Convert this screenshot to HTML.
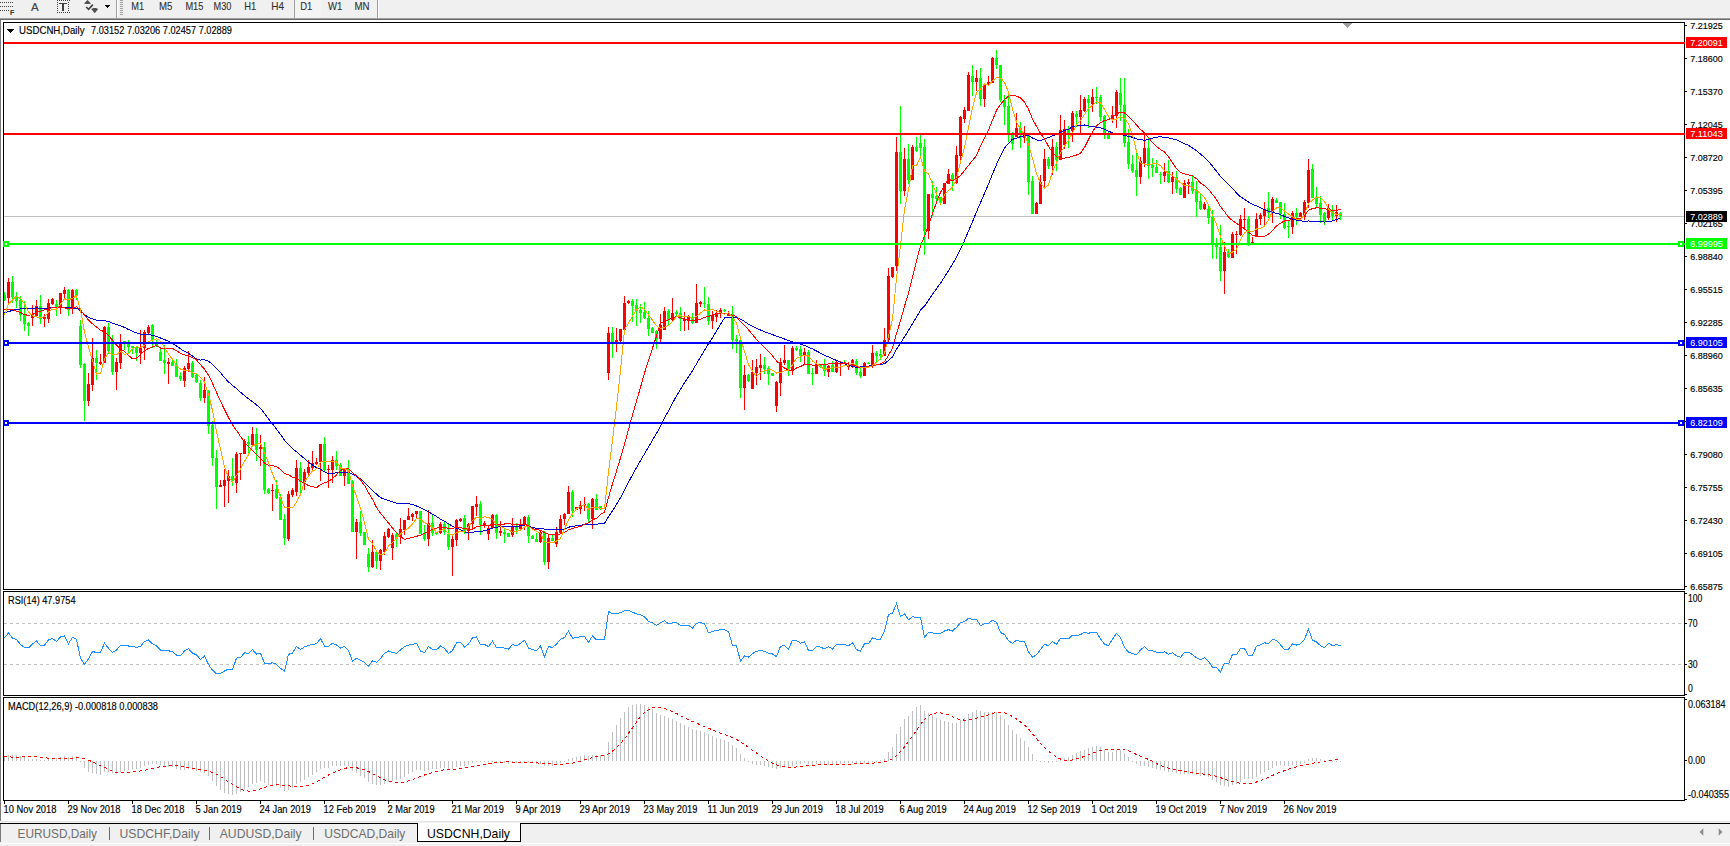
<!DOCTYPE html>
<html><head><meta charset="utf-8"><title>USDCNH,Daily</title>
<style>
html,body{margin:0;padding:0;background:#f0f0f0;overflow:hidden}
svg{display:block}
text{font-family:"Liberation Sans",Arial,sans-serif}
</style></head><body>
<svg width="1730" height="846" viewBox="0 0 1730 846" shape-rendering="crispEdges">
<defs><clipPath id="cm"><rect x="4" y="23" width="1680" height="566"/></clipPath></defs>
<rect x="0" y="0" width="1730" height="846" fill="#f0f0f0"/>
<rect x="0" y="18" width="1730" height="1" fill="#a0a0a0"/>
<rect x="0" y="19" width="1730" height="1" fill="#696969"/>
<rect x="1" y="20" width="1729" height="801" fill="#ffffff"/>
<rect x="0" y="20" width="1" height="801" fill="#7a7a7a"/>
<rect x="1" y="821" width="1729" height="1" fill="#e3e3e3"/>
<rect x="0" y="823" width="1730" height="1" fill="#000000"/>
<rect x="0" y="824" width="1730" height="19" fill="#f0f0f0"/>
<rect x="0" y="843" width="1730" height="1" fill="#ffffff"/>
<g clip-path="url(#cm)">
<rect x="4" y="216" width="1680" height="1" fill="#c0c0c0"/>
<rect x="4" y="292" width="1" height="9" fill="#00ff00"/>
<rect x="3" y="295" width="3" height="5" fill="#00ff00"/>
<rect x="8" y="278" width="1" height="26" fill="#ff0000"/>
<rect x="7" y="282" width="3" height="16" fill="#ff0000"/>
<rect x="12" y="276" width="1" height="27" fill="#00ff00"/>
<rect x="11" y="282" width="3" height="15" fill="#00ff00"/>
<rect x="16" y="292" width="1" height="16" fill="#00ff00"/>
<rect x="15" y="296" width="3" height="5" fill="#00ff00"/>
<rect x="20" y="296" width="1" height="25" fill="#00ff00"/>
<rect x="19" y="300" width="3" height="15" fill="#00ff00"/>
<rect x="24" y="301" width="1" height="30" fill="#00ff00"/>
<rect x="23" y="314" width="3" height="10" fill="#00ff00"/>
<rect x="28" y="322" width="1" height="14" fill="#00ff00"/>
<rect x="27" y="323" width="3" height="3" fill="#00ff00"/>
<rect x="32" y="305" width="1" height="21" fill="#ff0000"/>
<rect x="31" y="314" width="3" height="4" fill="#ff0000"/>
<rect x="36" y="300" width="1" height="17" fill="#ff0000"/>
<rect x="35" y="306" width="3" height="10" fill="#ff0000"/>
<rect x="40" y="295" width="1" height="29" fill="#00ff00"/>
<rect x="39" y="306" width="3" height="13" fill="#00ff00"/>
<rect x="44" y="314" width="1" height="13" fill="#ff0000"/>
<rect x="43" y="317" width="3" height="2" fill="#ff0000"/>
<rect x="48" y="299" width="1" height="24" fill="#ff0000"/>
<rect x="47" y="303" width="3" height="16" fill="#ff0000"/>
<rect x="52" y="298" width="1" height="7" fill="#ff0000"/>
<rect x="51" y="299" width="3" height="5" fill="#ff0000"/>
<rect x="56" y="300" width="1" height="16" fill="#00ff00"/>
<rect x="55" y="304" width="3" height="3" fill="#00ff00"/>
<rect x="60" y="293" width="1" height="21" fill="#ff0000"/>
<rect x="59" y="293" width="3" height="15" fill="#ff0000"/>
<rect x="64" y="287" width="1" height="11" fill="#ff0000"/>
<rect x="63" y="290" width="3" height="4" fill="#ff0000"/>
<rect x="68" y="289" width="1" height="27" fill="#00ff00"/>
<rect x="67" y="290" width="3" height="20" fill="#00ff00"/>
<rect x="72" y="289" width="1" height="25" fill="#ff0000"/>
<rect x="71" y="290" width="3" height="19" fill="#ff0000"/>
<rect x="76" y="289" width="1" height="11" fill="#00ff00"/>
<rect x="75" y="290" width="3" height="6" fill="#00ff00"/>
<rect x="80" y="320" width="1" height="48" fill="#00ff00"/>
<rect x="79" y="326" width="3" height="39" fill="#00ff00"/>
<rect x="84" y="363" width="1" height="58" fill="#00ff00"/>
<rect x="83" y="364" width="3" height="37" fill="#00ff00"/>
<rect x="88" y="373" width="1" height="33" fill="#ff0000"/>
<rect x="87" y="384" width="3" height="17" fill="#ff0000"/>
<rect x="92" y="338" width="1" height="53" fill="#ff0000"/>
<rect x="91" y="358" width="3" height="27" fill="#ff0000"/>
<rect x="96" y="350" width="1" height="30" fill="#00ff00"/>
<rect x="95" y="358" width="3" height="5" fill="#00ff00"/>
<rect x="100" y="354" width="1" height="11" fill="#ff0000"/>
<rect x="99" y="362" width="3" height="2" fill="#ff0000"/>
<rect x="104" y="326" width="1" height="37" fill="#ff0000"/>
<rect x="103" y="327" width="3" height="36" fill="#ff0000"/>
<rect x="108" y="323" width="1" height="31" fill="#00ff00"/>
<rect x="107" y="327" width="3" height="24" fill="#00ff00"/>
<rect x="112" y="335" width="1" height="40" fill="#00ff00"/>
<rect x="111" y="340" width="3" height="32" fill="#00ff00"/>
<rect x="116" y="358" width="1" height="32" fill="#ff0000"/>
<rect x="115" y="362" width="3" height="10" fill="#ff0000"/>
<rect x="120" y="334" width="1" height="35" fill="#ff0000"/>
<rect x="119" y="344" width="3" height="19" fill="#ff0000"/>
<rect x="124" y="341" width="1" height="9" fill="#00ff00"/>
<rect x="123" y="341" width="3" height="2" fill="#00ff00"/>
<rect x="128" y="340" width="1" height="13" fill="#00ff00"/>
<rect x="127" y="343" width="3" height="4" fill="#00ff00"/>
<rect x="132" y="346" width="1" height="8" fill="#00ff00"/>
<rect x="131" y="346" width="3" height="2" fill="#00ff00"/>
<rect x="136" y="346" width="1" height="15" fill="#00ff00"/>
<rect x="135" y="347" width="3" height="6" fill="#00ff00"/>
<rect x="140" y="330" width="1" height="34" fill="#ff0000"/>
<rect x="139" y="348" width="3" height="5" fill="#ff0000"/>
<rect x="144" y="330" width="1" height="30" fill="#ff0000"/>
<rect x="143" y="332" width="3" height="16" fill="#ff0000"/>
<rect x="148" y="325" width="1" height="9" fill="#ff0000"/>
<rect x="147" y="327" width="3" height="6" fill="#ff0000"/>
<rect x="152" y="324" width="1" height="24" fill="#00ff00"/>
<rect x="151" y="325" width="3" height="15" fill="#00ff00"/>
<rect x="156" y="340" width="1" height="7" fill="#00ff00"/>
<rect x="155" y="343" width="3" height="3" fill="#00ff00"/>
<rect x="160" y="347" width="1" height="14" fill="#00ff00"/>
<rect x="159" y="352" width="3" height="9" fill="#00ff00"/>
<rect x="164" y="345" width="1" height="29" fill="#00ff00"/>
<rect x="163" y="360" width="3" height="3" fill="#00ff00"/>
<rect x="168" y="358" width="1" height="26" fill="#ff0000"/>
<rect x="167" y="362" width="3" height="2" fill="#ff0000"/>
<rect x="172" y="358" width="1" height="8" fill="#00ff00"/>
<rect x="171" y="362" width="3" height="4" fill="#00ff00"/>
<rect x="176" y="359" width="1" height="18" fill="#00ff00"/>
<rect x="175" y="365" width="3" height="12" fill="#00ff00"/>
<rect x="180" y="372" width="1" height="9" fill="#00ff00"/>
<rect x="179" y="376" width="3" height="3" fill="#00ff00"/>
<rect x="184" y="366" width="1" height="21" fill="#ff0000"/>
<rect x="183" y="368" width="3" height="13" fill="#ff0000"/>
<rect x="188" y="351" width="1" height="21" fill="#ff0000"/>
<rect x="187" y="363" width="3" height="6" fill="#ff0000"/>
<rect x="192" y="361" width="1" height="17" fill="#00ff00"/>
<rect x="191" y="363" width="3" height="14" fill="#00ff00"/>
<rect x="196" y="374" width="1" height="9" fill="#00ff00"/>
<rect x="195" y="375" width="3" height="7" fill="#00ff00"/>
<rect x="200" y="380" width="1" height="21" fill="#00ff00"/>
<rect x="199" y="383" width="3" height="15" fill="#00ff00"/>
<rect x="204" y="377" width="1" height="26" fill="#ff0000"/>
<rect x="203" y="390" width="3" height="8" fill="#ff0000"/>
<rect x="208" y="390" width="1" height="44" fill="#00ff00"/>
<rect x="207" y="391" width="3" height="35" fill="#00ff00"/>
<rect x="212" y="421" width="1" height="45" fill="#00ff00"/>
<rect x="211" y="425" width="3" height="33" fill="#00ff00"/>
<rect x="216" y="450" width="1" height="59" fill="#00ff00"/>
<rect x="215" y="458" width="3" height="29" fill="#00ff00"/>
<rect x="220" y="480" width="1" height="7" fill="#ff0000"/>
<rect x="219" y="485" width="3" height="2" fill="#ff0000"/>
<rect x="224" y="469" width="1" height="38" fill="#ff0000"/>
<rect x="223" y="480" width="3" height="6" fill="#ff0000"/>
<rect x="228" y="470" width="1" height="33" fill="#ff0000"/>
<rect x="227" y="476" width="3" height="5" fill="#ff0000"/>
<rect x="232" y="458" width="1" height="28" fill="#00ff00"/>
<rect x="231" y="476" width="3" height="5" fill="#00ff00"/>
<rect x="236" y="452" width="1" height="41" fill="#ff0000"/>
<rect x="235" y="454" width="3" height="29" fill="#ff0000"/>
<rect x="240" y="453" width="1" height="27" fill="#ff0000"/>
<rect x="239" y="453" width="3" height="1" fill="#ff0000"/>
<rect x="244" y="439" width="1" height="15" fill="#ff0000"/>
<rect x="243" y="441" width="3" height="13" fill="#ff0000"/>
<rect x="248" y="436" width="1" height="18" fill="#00ff00"/>
<rect x="247" y="442" width="3" height="2" fill="#00ff00"/>
<rect x="252" y="427" width="1" height="19" fill="#ff0000"/>
<rect x="251" y="434" width="3" height="11" fill="#ff0000"/>
<rect x="256" y="428" width="1" height="33" fill="#00ff00"/>
<rect x="255" y="434" width="3" height="16" fill="#00ff00"/>
<rect x="260" y="435" width="1" height="31" fill="#ff0000"/>
<rect x="259" y="447" width="3" height="2" fill="#ff0000"/>
<rect x="264" y="442" width="1" height="52" fill="#00ff00"/>
<rect x="263" y="447" width="3" height="43" fill="#00ff00"/>
<rect x="268" y="488" width="1" height="6" fill="#00ff00"/>
<rect x="267" y="489" width="3" height="4" fill="#00ff00"/>
<rect x="272" y="484" width="1" height="27" fill="#ff0000"/>
<rect x="271" y="490" width="3" height="1" fill="#ff0000"/>
<rect x="276" y="480" width="1" height="19" fill="#00ff00"/>
<rect x="275" y="489" width="3" height="9" fill="#00ff00"/>
<rect x="280" y="494" width="1" height="26" fill="#00ff00"/>
<rect x="279" y="497" width="3" height="23" fill="#00ff00"/>
<rect x="284" y="514" width="1" height="31" fill="#00ff00"/>
<rect x="283" y="519" width="3" height="19" fill="#00ff00"/>
<rect x="288" y="491" width="1" height="50" fill="#ff0000"/>
<rect x="287" y="494" width="3" height="45" fill="#ff0000"/>
<rect x="292" y="488" width="1" height="9" fill="#ff0000"/>
<rect x="291" y="490" width="3" height="5" fill="#ff0000"/>
<rect x="296" y="460" width="1" height="36" fill="#ff0000"/>
<rect x="295" y="468" width="3" height="24" fill="#ff0000"/>
<rect x="300" y="462" width="1" height="31" fill="#00ff00"/>
<rect x="299" y="468" width="3" height="14" fill="#00ff00"/>
<rect x="304" y="469" width="1" height="21" fill="#ff0000"/>
<rect x="303" y="472" width="3" height="10" fill="#ff0000"/>
<rect x="308" y="460" width="1" height="16" fill="#ff0000"/>
<rect x="307" y="467" width="3" height="6" fill="#ff0000"/>
<rect x="312" y="451" width="1" height="20" fill="#ff0000"/>
<rect x="311" y="463" width="3" height="5" fill="#ff0000"/>
<rect x="316" y="458" width="1" height="7" fill="#ff0000"/>
<rect x="315" y="462" width="3" height="2" fill="#ff0000"/>
<rect x="320" y="444" width="1" height="37" fill="#ff0000"/>
<rect x="319" y="444" width="3" height="18" fill="#ff0000"/>
<rect x="324" y="437" width="1" height="34" fill="#00ff00"/>
<rect x="323" y="444" width="3" height="26" fill="#00ff00"/>
<rect x="328" y="465" width="1" height="23" fill="#ff0000"/>
<rect x="327" y="469" width="3" height="1" fill="#ff0000"/>
<rect x="332" y="456" width="1" height="27" fill="#ff0000"/>
<rect x="331" y="460" width="3" height="10" fill="#ff0000"/>
<rect x="336" y="451" width="1" height="19" fill="#00ff00"/>
<rect x="335" y="460" width="3" height="6" fill="#00ff00"/>
<rect x="340" y="463" width="1" height="13" fill="#00ff00"/>
<rect x="339" y="465" width="3" height="11" fill="#00ff00"/>
<rect x="344" y="469" width="1" height="17" fill="#ff0000"/>
<rect x="343" y="470" width="3" height="6" fill="#ff0000"/>
<rect x="348" y="460" width="1" height="24" fill="#00ff00"/>
<rect x="347" y="469" width="3" height="15" fill="#00ff00"/>
<rect x="352" y="480" width="1" height="52" fill="#00ff00"/>
<rect x="351" y="481" width="3" height="51" fill="#00ff00"/>
<rect x="356" y="519" width="1" height="40" fill="#ff0000"/>
<rect x="355" y="522" width="3" height="10" fill="#ff0000"/>
<rect x="360" y="511" width="1" height="25" fill="#00ff00"/>
<rect x="359" y="522" width="3" height="11" fill="#00ff00"/>
<rect x="364" y="532" width="1" height="13" fill="#00ff00"/>
<rect x="363" y="532" width="3" height="13" fill="#00ff00"/>
<rect x="368" y="548" width="1" height="24" fill="#00ff00"/>
<rect x="367" y="554" width="3" height="13" fill="#00ff00"/>
<rect x="372" y="540" width="1" height="28" fill="#ff0000"/>
<rect x="371" y="552" width="3" height="15" fill="#ff0000"/>
<rect x="376" y="551" width="1" height="18" fill="#00ff00"/>
<rect x="375" y="552" width="3" height="9" fill="#00ff00"/>
<rect x="380" y="549" width="1" height="21" fill="#ff0000"/>
<rect x="379" y="550" width="3" height="11" fill="#ff0000"/>
<rect x="384" y="532" width="1" height="23" fill="#ff0000"/>
<rect x="383" y="536" width="3" height="16" fill="#ff0000"/>
<rect x="388" y="528" width="1" height="10" fill="#ff0000"/>
<rect x="387" y="529" width="3" height="8" fill="#ff0000"/>
<rect x="392" y="533" width="1" height="27" fill="#ff0000"/>
<rect x="391" y="535" width="3" height="13" fill="#ff0000"/>
<rect x="396" y="533" width="1" height="14" fill="#00ff00"/>
<rect x="395" y="534" width="3" height="5" fill="#00ff00"/>
<rect x="400" y="518" width="1" height="26" fill="#ff0000"/>
<rect x="399" y="529" width="3" height="8" fill="#ff0000"/>
<rect x="404" y="520" width="1" height="15" fill="#ff0000"/>
<rect x="403" y="520" width="3" height="10" fill="#ff0000"/>
<rect x="408" y="508" width="1" height="12" fill="#ff0000"/>
<rect x="407" y="516" width="3" height="4" fill="#ff0000"/>
<rect x="412" y="513" width="1" height="8" fill="#ff0000"/>
<rect x="411" y="514" width="3" height="3" fill="#ff0000"/>
<rect x="416" y="511" width="1" height="7" fill="#ff0000"/>
<rect x="415" y="511" width="3" height="3" fill="#ff0000"/>
<rect x="420" y="511" width="1" height="23" fill="#00ff00"/>
<rect x="419" y="511" width="3" height="23" fill="#00ff00"/>
<rect x="424" y="525" width="1" height="16" fill="#00ff00"/>
<rect x="423" y="533" width="3" height="6" fill="#00ff00"/>
<rect x="428" y="510" width="1" height="36" fill="#ff0000"/>
<rect x="427" y="523" width="3" height="16" fill="#ff0000"/>
<rect x="432" y="515" width="1" height="21" fill="#00ff00"/>
<rect x="431" y="523" width="3" height="10" fill="#00ff00"/>
<rect x="436" y="532" width="1" height="3" fill="#00ff00"/>
<rect x="435" y="532" width="3" height="2" fill="#00ff00"/>
<rect x="440" y="522" width="1" height="12" fill="#ff0000"/>
<rect x="439" y="524" width="3" height="9" fill="#ff0000"/>
<rect x="444" y="522" width="1" height="13" fill="#00ff00"/>
<rect x="443" y="524" width="3" height="8" fill="#00ff00"/>
<rect x="448" y="524" width="1" height="26" fill="#00ff00"/>
<rect x="447" y="534" width="3" height="13" fill="#00ff00"/>
<rect x="452" y="536" width="1" height="40" fill="#ff0000"/>
<rect x="451" y="539" width="3" height="8" fill="#ff0000"/>
<rect x="456" y="519" width="1" height="27" fill="#ff0000"/>
<rect x="455" y="520" width="3" height="20" fill="#ff0000"/>
<rect x="460" y="518" width="1" height="4" fill="#ff0000"/>
<rect x="459" y="519" width="3" height="2" fill="#ff0000"/>
<rect x="464" y="515" width="1" height="19" fill="#00ff00"/>
<rect x="463" y="518" width="3" height="14" fill="#00ff00"/>
<rect x="468" y="523" width="1" height="17" fill="#ff0000"/>
<rect x="467" y="524" width="3" height="7" fill="#ff0000"/>
<rect x="472" y="506" width="1" height="24" fill="#ff0000"/>
<rect x="471" y="506" width="3" height="18" fill="#ff0000"/>
<rect x="476" y="496" width="1" height="20" fill="#ff0000"/>
<rect x="475" y="504" width="3" height="3" fill="#ff0000"/>
<rect x="480" y="501" width="1" height="34" fill="#00ff00"/>
<rect x="479" y="504" width="3" height="21" fill="#00ff00"/>
<rect x="484" y="521" width="1" height="7" fill="#ff0000"/>
<rect x="483" y="523" width="3" height="3" fill="#ff0000"/>
<rect x="488" y="526" width="1" height="14" fill="#ff0000"/>
<rect x="487" y="528" width="3" height="6" fill="#ff0000"/>
<rect x="492" y="514" width="1" height="14" fill="#ff0000"/>
<rect x="491" y="515" width="3" height="13" fill="#ff0000"/>
<rect x="496" y="514" width="1" height="25" fill="#00ff00"/>
<rect x="495" y="515" width="3" height="18" fill="#00ff00"/>
<rect x="500" y="521" width="1" height="15" fill="#ff0000"/>
<rect x="499" y="531" width="3" height="2" fill="#ff0000"/>
<rect x="504" y="529" width="1" height="14" fill="#00ff00"/>
<rect x="503" y="532" width="3" height="2" fill="#00ff00"/>
<rect x="508" y="533" width="1" height="4" fill="#00ff00"/>
<rect x="507" y="533" width="3" height="4" fill="#00ff00"/>
<rect x="512" y="518" width="1" height="19" fill="#ff0000"/>
<rect x="511" y="526" width="3" height="9" fill="#ff0000"/>
<rect x="516" y="523" width="1" height="11" fill="#00ff00"/>
<rect x="515" y="527" width="3" height="3" fill="#00ff00"/>
<rect x="520" y="519" width="1" height="11" fill="#ff0000"/>
<rect x="519" y="524" width="3" height="5" fill="#ff0000"/>
<rect x="524" y="516" width="1" height="14" fill="#ff0000"/>
<rect x="523" y="517" width="3" height="7" fill="#ff0000"/>
<rect x="528" y="515" width="1" height="28" fill="#00ff00"/>
<rect x="527" y="517" width="3" height="19" fill="#00ff00"/>
<rect x="532" y="535" width="1" height="4" fill="#00ff00"/>
<rect x="531" y="536" width="3" height="3" fill="#00ff00"/>
<rect x="536" y="533" width="1" height="9" fill="#00ff00"/>
<rect x="535" y="539" width="3" height="3" fill="#00ff00"/>
<rect x="540" y="531" width="1" height="12" fill="#ff0000"/>
<rect x="539" y="532" width="3" height="10" fill="#ff0000"/>
<rect x="544" y="531" width="1" height="34" fill="#00ff00"/>
<rect x="543" y="532" width="3" height="30" fill="#00ff00"/>
<rect x="548" y="535" width="1" height="34" fill="#ff0000"/>
<rect x="547" y="538" width="3" height="24" fill="#ff0000"/>
<rect x="552" y="535" width="1" height="6" fill="#00ff00"/>
<rect x="551" y="538" width="3" height="3" fill="#00ff00"/>
<rect x="556" y="527" width="1" height="20" fill="#ff0000"/>
<rect x="555" y="532" width="3" height="12" fill="#ff0000"/>
<rect x="560" y="515" width="1" height="19" fill="#ff0000"/>
<rect x="559" y="519" width="3" height="14" fill="#ff0000"/>
<rect x="564" y="513" width="1" height="12" fill="#ff0000"/>
<rect x="563" y="514" width="3" height="5" fill="#ff0000"/>
<rect x="568" y="486" width="1" height="28" fill="#ff0000"/>
<rect x="567" y="492" width="3" height="22" fill="#ff0000"/>
<rect x="572" y="490" width="1" height="27" fill="#00ff00"/>
<rect x="571" y="492" width="3" height="19" fill="#00ff00"/>
<rect x="576" y="507" width="1" height="3" fill="#ff0000"/>
<rect x="575" y="507" width="3" height="3" fill="#ff0000"/>
<rect x="580" y="501" width="1" height="13" fill="#ff0000"/>
<rect x="579" y="505" width="3" height="4" fill="#ff0000"/>
<rect x="584" y="497" width="1" height="14" fill="#ff0000"/>
<rect x="583" y="504" width="3" height="1" fill="#ff0000"/>
<rect x="588" y="503" width="1" height="19" fill="#00ff00"/>
<rect x="587" y="504" width="3" height="15" fill="#00ff00"/>
<rect x="592" y="498" width="1" height="31" fill="#ff0000"/>
<rect x="591" y="499" width="3" height="20" fill="#ff0000"/>
<rect x="596" y="494" width="1" height="16" fill="#00ff00"/>
<rect x="595" y="499" width="3" height="11" fill="#00ff00"/>
<rect x="600" y="506" width="1" height="4" fill="#00ff00"/>
<rect x="599" y="506" width="3" height="3" fill="#00ff00"/>
<rect x="604" y="508" width="1" height="1" fill="#00ff00"/>
<rect x="603" y="508" width="3" height="1" fill="#00ff00"/>
<rect x="608" y="327" width="1" height="53" fill="#ff0000"/>
<rect x="607" y="333" width="3" height="40" fill="#ff0000"/>
<rect x="612" y="327" width="1" height="31" fill="#00ff00"/>
<rect x="611" y="333" width="3" height="9" fill="#00ff00"/>
<rect x="616" y="328" width="1" height="24" fill="#ff0000"/>
<rect x="615" y="340" width="3" height="2" fill="#ff0000"/>
<rect x="620" y="329" width="1" height="15" fill="#ff0000"/>
<rect x="619" y="329" width="3" height="12" fill="#ff0000"/>
<rect x="624" y="296" width="1" height="34" fill="#ff0000"/>
<rect x="623" y="303" width="3" height="27" fill="#ff0000"/>
<rect x="628" y="300" width="1" height="4" fill="#ff0000"/>
<rect x="627" y="301" width="3" height="2" fill="#ff0000"/>
<rect x="632" y="299" width="1" height="23" fill="#00ff00"/>
<rect x="631" y="301" width="3" height="5" fill="#00ff00"/>
<rect x="636" y="299" width="1" height="27" fill="#00ff00"/>
<rect x="635" y="305" width="3" height="6" fill="#00ff00"/>
<rect x="640" y="304" width="1" height="19" fill="#00ff00"/>
<rect x="639" y="310" width="3" height="3" fill="#00ff00"/>
<rect x="644" y="302" width="1" height="17" fill="#00ff00"/>
<rect x="643" y="312" width="3" height="6" fill="#00ff00"/>
<rect x="648" y="311" width="1" height="25" fill="#00ff00"/>
<rect x="647" y="318" width="3" height="11" fill="#00ff00"/>
<rect x="652" y="327" width="1" height="6" fill="#00ff00"/>
<rect x="651" y="328" width="3" height="5" fill="#00ff00"/>
<rect x="656" y="330" width="1" height="19" fill="#00ff00"/>
<rect x="655" y="331" width="3" height="8" fill="#00ff00"/>
<rect x="660" y="314" width="1" height="28" fill="#ff0000"/>
<rect x="659" y="325" width="3" height="14" fill="#ff0000"/>
<rect x="664" y="307" width="1" height="23" fill="#ff0000"/>
<rect x="663" y="311" width="3" height="19" fill="#ff0000"/>
<rect x="668" y="309" width="1" height="16" fill="#00ff00"/>
<rect x="667" y="311" width="3" height="9" fill="#00ff00"/>
<rect x="672" y="298" width="1" height="23" fill="#ff0000"/>
<rect x="671" y="313" width="3" height="7" fill="#ff0000"/>
<rect x="676" y="310" width="1" height="6" fill="#00ff00"/>
<rect x="675" y="312" width="3" height="2" fill="#00ff00"/>
<rect x="680" y="307" width="1" height="24" fill="#00ff00"/>
<rect x="679" y="313" width="3" height="6" fill="#00ff00"/>
<rect x="684" y="312" width="1" height="19" fill="#ff0000"/>
<rect x="683" y="319" width="3" height="2" fill="#ff0000"/>
<rect x="688" y="315" width="1" height="15" fill="#ff0000"/>
<rect x="687" y="317" width="3" height="4" fill="#ff0000"/>
<rect x="692" y="313" width="1" height="11" fill="#00ff00"/>
<rect x="691" y="318" width="3" height="5" fill="#00ff00"/>
<rect x="696" y="284" width="1" height="39" fill="#ff0000"/>
<rect x="695" y="303" width="3" height="20" fill="#ff0000"/>
<rect x="700" y="301" width="1" height="6" fill="#ff0000"/>
<rect x="699" y="302" width="3" height="2" fill="#ff0000"/>
<rect x="704" y="287" width="1" height="21" fill="#00ff00"/>
<rect x="703" y="303" width="3" height="1" fill="#00ff00"/>
<rect x="708" y="297" width="1" height="28" fill="#00ff00"/>
<rect x="707" y="304" width="3" height="17" fill="#00ff00"/>
<rect x="712" y="311" width="1" height="18" fill="#ff0000"/>
<rect x="711" y="315" width="3" height="6" fill="#ff0000"/>
<rect x="716" y="310" width="1" height="12" fill="#ff0000"/>
<rect x="715" y="313" width="3" height="4" fill="#ff0000"/>
<rect x="720" y="308" width="1" height="10" fill="#ff0000"/>
<rect x="719" y="310" width="3" height="4" fill="#ff0000"/>
<rect x="724" y="309" width="1" height="3" fill="#00ff00"/>
<rect x="723" y="310" width="3" height="1" fill="#00ff00"/>
<rect x="728" y="311" width="1" height="5" fill="#ff0000"/>
<rect x="727" y="313" width="3" height="3" fill="#ff0000"/>
<rect x="732" y="306" width="1" height="43" fill="#00ff00"/>
<rect x="731" y="314" width="3" height="26" fill="#00ff00"/>
<rect x="736" y="335" width="1" height="18" fill="#00ff00"/>
<rect x="735" y="339" width="3" height="2" fill="#00ff00"/>
<rect x="740" y="340" width="1" height="58" fill="#00ff00"/>
<rect x="739" y="340" width="3" height="48" fill="#00ff00"/>
<rect x="744" y="365" width="1" height="45" fill="#ff0000"/>
<rect x="743" y="375" width="3" height="13" fill="#ff0000"/>
<rect x="748" y="374" width="1" height="8" fill="#00ff00"/>
<rect x="747" y="375" width="3" height="6" fill="#00ff00"/>
<rect x="752" y="360" width="1" height="29" fill="#ff0000"/>
<rect x="751" y="372" width="3" height="17" fill="#ff0000"/>
<rect x="756" y="359" width="1" height="26" fill="#ff0000"/>
<rect x="755" y="367" width="3" height="6" fill="#ff0000"/>
<rect x="760" y="354" width="1" height="26" fill="#ff0000"/>
<rect x="759" y="365" width="3" height="3" fill="#ff0000"/>
<rect x="764" y="357" width="1" height="17" fill="#00ff00"/>
<rect x="763" y="365" width="3" height="4" fill="#00ff00"/>
<rect x="768" y="366" width="1" height="19" fill="#00ff00"/>
<rect x="767" y="368" width="3" height="6" fill="#00ff00"/>
<rect x="772" y="373" width="1" height="3" fill="#00ff00"/>
<rect x="771" y="373" width="3" height="3" fill="#00ff00"/>
<rect x="776" y="381" width="1" height="31" fill="#ff0000"/>
<rect x="775" y="382" width="3" height="24" fill="#ff0000"/>
<rect x="780" y="358" width="1" height="38" fill="#ff0000"/>
<rect x="779" y="362" width="3" height="21" fill="#ff0000"/>
<rect x="784" y="345" width="1" height="20" fill="#ff0000"/>
<rect x="783" y="360" width="3" height="3" fill="#ff0000"/>
<rect x="788" y="360" width="1" height="16" fill="#00ff00"/>
<rect x="787" y="360" width="3" height="10" fill="#00ff00"/>
<rect x="792" y="346" width="1" height="29" fill="#ff0000"/>
<rect x="791" y="348" width="3" height="22" fill="#ff0000"/>
<rect x="796" y="346" width="1" height="5" fill="#00ff00"/>
<rect x="795" y="348" width="3" height="2" fill="#00ff00"/>
<rect x="800" y="346" width="1" height="16" fill="#00ff00"/>
<rect x="799" y="349" width="3" height="7" fill="#00ff00"/>
<rect x="804" y="348" width="1" height="16" fill="#ff0000"/>
<rect x="803" y="352" width="3" height="4" fill="#ff0000"/>
<rect x="808" y="350" width="1" height="24" fill="#00ff00"/>
<rect x="807" y="352" width="3" height="22" fill="#00ff00"/>
<rect x="812" y="368" width="1" height="17" fill="#00ff00"/>
<rect x="811" y="373" width="3" height="1" fill="#00ff00"/>
<rect x="816" y="360" width="1" height="14" fill="#ff0000"/>
<rect x="815" y="364" width="3" height="10" fill="#ff0000"/>
<rect x="820" y="364" width="1" height="4" fill="#00ff00"/>
<rect x="819" y="365" width="3" height="2" fill="#00ff00"/>
<rect x="824" y="359" width="1" height="17" fill="#00ff00"/>
<rect x="823" y="365" width="3" height="6" fill="#00ff00"/>
<rect x="828" y="365" width="1" height="12" fill="#ff0000"/>
<rect x="827" y="366" width="3" height="6" fill="#ff0000"/>
<rect x="832" y="361" width="1" height="11" fill="#00ff00"/>
<rect x="831" y="365" width="3" height="7" fill="#00ff00"/>
<rect x="836" y="360" width="1" height="13" fill="#ff0000"/>
<rect x="835" y="362" width="3" height="10" fill="#ff0000"/>
<rect x="840" y="361" width="1" height="15" fill="#ff0000"/>
<rect x="839" y="363" width="3" height="1" fill="#ff0000"/>
<rect x="844" y="360" width="1" height="4" fill="#00ff00"/>
<rect x="843" y="362" width="3" height="2" fill="#00ff00"/>
<rect x="848" y="362" width="1" height="8" fill="#ff0000"/>
<rect x="847" y="365" width="3" height="2" fill="#ff0000"/>
<rect x="852" y="359" width="1" height="9" fill="#ff0000"/>
<rect x="851" y="360" width="3" height="7" fill="#ff0000"/>
<rect x="856" y="359" width="1" height="16" fill="#00ff00"/>
<rect x="855" y="361" width="3" height="12" fill="#00ff00"/>
<rect x="860" y="368" width="1" height="10" fill="#00ff00"/>
<rect x="859" y="372" width="3" height="4" fill="#00ff00"/>
<rect x="864" y="362" width="1" height="14" fill="#ff0000"/>
<rect x="863" y="363" width="3" height="13" fill="#ff0000"/>
<rect x="868" y="362" width="1" height="2" fill="#00ff00"/>
<rect x="867" y="363" width="3" height="1" fill="#00ff00"/>
<rect x="872" y="345" width="1" height="23" fill="#ff0000"/>
<rect x="871" y="353" width="3" height="12" fill="#ff0000"/>
<rect x="876" y="351" width="1" height="11" fill="#00ff00"/>
<rect x="875" y="353" width="3" height="3" fill="#00ff00"/>
<rect x="880" y="349" width="1" height="11" fill="#00ff00"/>
<rect x="879" y="354" width="3" height="2" fill="#00ff00"/>
<rect x="884" y="328" width="1" height="28" fill="#ff0000"/>
<rect x="883" y="340" width="3" height="16" fill="#ff0000"/>
<rect x="888" y="268" width="1" height="74" fill="#ff0000"/>
<rect x="887" y="276" width="3" height="64" fill="#ff0000"/>
<rect x="892" y="267" width="1" height="11" fill="#ff0000"/>
<rect x="891" y="267" width="3" height="10" fill="#ff0000"/>
<rect x="896" y="137" width="1" height="134" fill="#ff0000"/>
<rect x="895" y="152" width="3" height="114" fill="#ff0000"/>
<rect x="900" y="106" width="1" height="98" fill="#00ff00"/>
<rect x="899" y="152" width="3" height="39" fill="#00ff00"/>
<rect x="904" y="148" width="1" height="48" fill="#ff0000"/>
<rect x="903" y="159" width="3" height="32" fill="#ff0000"/>
<rect x="908" y="144" width="1" height="40" fill="#00ff00"/>
<rect x="907" y="159" width="3" height="21" fill="#00ff00"/>
<rect x="912" y="145" width="1" height="35" fill="#ff0000"/>
<rect x="911" y="147" width="3" height="33" fill="#ff0000"/>
<rect x="916" y="137" width="1" height="15" fill="#00ff00"/>
<rect x="915" y="147" width="3" height="4" fill="#00ff00"/>
<rect x="920" y="135" width="1" height="22" fill="#00ff00"/>
<rect x="919" y="143" width="3" height="5" fill="#00ff00"/>
<rect x="924" y="139" width="1" height="116" fill="#00ff00"/>
<rect x="923" y="147" width="3" height="84" fill="#00ff00"/>
<rect x="928" y="194" width="1" height="45" fill="#ff0000"/>
<rect x="927" y="194" width="3" height="37" fill="#ff0000"/>
<rect x="932" y="181" width="1" height="35" fill="#00ff00"/>
<rect x="931" y="194" width="3" height="4" fill="#00ff00"/>
<rect x="936" y="187" width="1" height="14" fill="#00ff00"/>
<rect x="935" y="196" width="3" height="3" fill="#00ff00"/>
<rect x="940" y="197" width="1" height="7" fill="#00ff00"/>
<rect x="939" y="197" width="3" height="3" fill="#00ff00"/>
<rect x="944" y="183" width="1" height="21" fill="#ff0000"/>
<rect x="943" y="183" width="3" height="21" fill="#ff0000"/>
<rect x="948" y="169" width="1" height="15" fill="#ff0000"/>
<rect x="947" y="174" width="3" height="10" fill="#ff0000"/>
<rect x="952" y="173" width="1" height="18" fill="#00ff00"/>
<rect x="951" y="175" width="3" height="5" fill="#00ff00"/>
<rect x="956" y="146" width="1" height="38" fill="#ff0000"/>
<rect x="955" y="155" width="3" height="28" fill="#ff0000"/>
<rect x="960" y="116" width="1" height="45" fill="#ff0000"/>
<rect x="959" y="117" width="3" height="39" fill="#ff0000"/>
<rect x="964" y="107" width="1" height="16" fill="#ff0000"/>
<rect x="963" y="110" width="3" height="9" fill="#ff0000"/>
<rect x="968" y="72" width="1" height="39" fill="#ff0000"/>
<rect x="967" y="75" width="3" height="36" fill="#ff0000"/>
<rect x="972" y="65" width="1" height="31" fill="#00ff00"/>
<rect x="971" y="76" width="3" height="6" fill="#00ff00"/>
<rect x="976" y="70" width="1" height="21" fill="#ff0000"/>
<rect x="975" y="78" width="3" height="4" fill="#ff0000"/>
<rect x="980" y="68" width="1" height="38" fill="#00ff00"/>
<rect x="979" y="78" width="3" height="21" fill="#00ff00"/>
<rect x="984" y="83" width="1" height="24" fill="#ff0000"/>
<rect x="983" y="85" width="3" height="14" fill="#ff0000"/>
<rect x="988" y="76" width="1" height="10" fill="#ff0000"/>
<rect x="987" y="82" width="3" height="3" fill="#ff0000"/>
<rect x="992" y="57" width="1" height="26" fill="#ff0000"/>
<rect x="991" y="58" width="3" height="25" fill="#ff0000"/>
<rect x="996" y="50" width="1" height="19" fill="#00ff00"/>
<rect x="995" y="58" width="3" height="7" fill="#00ff00"/>
<rect x="1000" y="65" width="1" height="37" fill="#00ff00"/>
<rect x="999" y="65" width="3" height="35" fill="#00ff00"/>
<rect x="1004" y="95" width="1" height="30" fill="#00ff00"/>
<rect x="1003" y="100" width="3" height="7" fill="#00ff00"/>
<rect x="1008" y="95" width="1" height="47" fill="#00ff00"/>
<rect x="1007" y="106" width="3" height="27" fill="#00ff00"/>
<rect x="1012" y="132" width="1" height="18" fill="#00ff00"/>
<rect x="1011" y="134" width="3" height="10" fill="#00ff00"/>
<rect x="1016" y="113" width="1" height="24" fill="#ff0000"/>
<rect x="1015" y="128" width="3" height="9" fill="#ff0000"/>
<rect x="1020" y="122" width="1" height="26" fill="#00ff00"/>
<rect x="1019" y="128" width="3" height="7" fill="#00ff00"/>
<rect x="1024" y="126" width="1" height="17" fill="#ff0000"/>
<rect x="1023" y="134" width="3" height="4" fill="#ff0000"/>
<rect x="1028" y="134" width="1" height="61" fill="#00ff00"/>
<rect x="1027" y="134" width="3" height="48" fill="#00ff00"/>
<rect x="1032" y="176" width="1" height="38" fill="#00ff00"/>
<rect x="1031" y="181" width="3" height="33" fill="#00ff00"/>
<rect x="1036" y="202" width="1" height="12" fill="#ff0000"/>
<rect x="1035" y="203" width="3" height="11" fill="#ff0000"/>
<rect x="1040" y="175" width="1" height="29" fill="#ff0000"/>
<rect x="1039" y="182" width="3" height="22" fill="#ff0000"/>
<rect x="1044" y="149" width="1" height="39" fill="#ff0000"/>
<rect x="1043" y="159" width="3" height="22" fill="#ff0000"/>
<rect x="1048" y="157" width="1" height="12" fill="#00ff00"/>
<rect x="1047" y="159" width="3" height="7" fill="#00ff00"/>
<rect x="1052" y="139" width="1" height="36" fill="#ff0000"/>
<rect x="1051" y="147" width="3" height="19" fill="#ff0000"/>
<rect x="1056" y="142" width="1" height="29" fill="#00ff00"/>
<rect x="1055" y="147" width="3" height="13" fill="#00ff00"/>
<rect x="1060" y="115" width="1" height="45" fill="#ff0000"/>
<rect x="1059" y="130" width="3" height="30" fill="#ff0000"/>
<rect x="1064" y="120" width="1" height="29" fill="#ff0000"/>
<rect x="1063" y="129" width="3" height="16" fill="#ff0000"/>
<rect x="1068" y="126" width="1" height="22" fill="#00ff00"/>
<rect x="1067" y="129" width="3" height="4" fill="#00ff00"/>
<rect x="1072" y="111" width="1" height="31" fill="#ff0000"/>
<rect x="1071" y="113" width="3" height="18" fill="#ff0000"/>
<rect x="1076" y="111" width="1" height="16" fill="#00ff00"/>
<rect x="1075" y="114" width="3" height="3" fill="#00ff00"/>
<rect x="1080" y="95" width="1" height="39" fill="#ff0000"/>
<rect x="1079" y="110" width="3" height="7" fill="#ff0000"/>
<rect x="1084" y="97" width="1" height="15" fill="#ff0000"/>
<rect x="1083" y="99" width="3" height="12" fill="#ff0000"/>
<rect x="1088" y="95" width="1" height="33" fill="#00ff00"/>
<rect x="1087" y="99" width="3" height="4" fill="#00ff00"/>
<rect x="1092" y="89" width="1" height="23" fill="#ff0000"/>
<rect x="1091" y="97" width="3" height="7" fill="#ff0000"/>
<rect x="1096" y="87" width="1" height="17" fill="#00ff00"/>
<rect x="1095" y="97" width="3" height="1" fill="#00ff00"/>
<rect x="1100" y="95" width="1" height="26" fill="#00ff00"/>
<rect x="1099" y="97" width="3" height="20" fill="#00ff00"/>
<rect x="1104" y="115" width="1" height="24" fill="#00ff00"/>
<rect x="1103" y="116" width="3" height="17" fill="#00ff00"/>
<rect x="1108" y="132" width="1" height="7" fill="#00ff00"/>
<rect x="1107" y="133" width="3" height="6" fill="#00ff00"/>
<rect x="1112" y="106" width="1" height="17" fill="#ff0000"/>
<rect x="1111" y="115" width="3" height="5" fill="#ff0000"/>
<rect x="1116" y="90" width="1" height="38" fill="#ff0000"/>
<rect x="1115" y="92" width="3" height="24" fill="#ff0000"/>
<rect x="1120" y="78" width="1" height="43" fill="#00ff00"/>
<rect x="1119" y="93" width="3" height="12" fill="#00ff00"/>
<rect x="1124" y="78" width="1" height="69" fill="#00ff00"/>
<rect x="1123" y="105" width="3" height="38" fill="#00ff00"/>
<rect x="1128" y="129" width="1" height="40" fill="#00ff00"/>
<rect x="1127" y="142" width="3" height="22" fill="#00ff00"/>
<rect x="1132" y="155" width="1" height="18" fill="#00ff00"/>
<rect x="1131" y="164" width="3" height="7" fill="#00ff00"/>
<rect x="1136" y="153" width="1" height="43" fill="#00ff00"/>
<rect x="1135" y="170" width="3" height="7" fill="#00ff00"/>
<rect x="1140" y="157" width="1" height="27" fill="#ff0000"/>
<rect x="1139" y="161" width="3" height="16" fill="#ff0000"/>
<rect x="1144" y="134" width="1" height="33" fill="#ff0000"/>
<rect x="1143" y="148" width="3" height="15" fill="#ff0000"/>
<rect x="1148" y="138" width="1" height="41" fill="#00ff00"/>
<rect x="1147" y="148" width="3" height="18" fill="#00ff00"/>
<rect x="1152" y="158" width="1" height="19" fill="#00ff00"/>
<rect x="1151" y="165" width="3" height="3" fill="#00ff00"/>
<rect x="1156" y="160" width="1" height="13" fill="#00ff00"/>
<rect x="1155" y="167" width="3" height="6" fill="#00ff00"/>
<rect x="1160" y="172" width="1" height="12" fill="#00ff00"/>
<rect x="1159" y="174" width="3" height="1" fill="#00ff00"/>
<rect x="1164" y="163" width="1" height="19" fill="#ff0000"/>
<rect x="1163" y="172" width="3" height="4" fill="#ff0000"/>
<rect x="1168" y="160" width="1" height="23" fill="#00ff00"/>
<rect x="1167" y="171" width="3" height="11" fill="#00ff00"/>
<rect x="1172" y="172" width="1" height="22" fill="#ff0000"/>
<rect x="1171" y="177" width="3" height="5" fill="#ff0000"/>
<rect x="1176" y="171" width="1" height="22" fill="#00ff00"/>
<rect x="1175" y="177" width="3" height="12" fill="#00ff00"/>
<rect x="1180" y="187" width="1" height="8" fill="#00ff00"/>
<rect x="1179" y="188" width="3" height="7" fill="#00ff00"/>
<rect x="1184" y="180" width="1" height="18" fill="#ff0000"/>
<rect x="1183" y="183" width="3" height="15" fill="#ff0000"/>
<rect x="1188" y="179" width="1" height="15" fill="#ff0000"/>
<rect x="1187" y="182" width="3" height="2" fill="#ff0000"/>
<rect x="1192" y="176" width="1" height="18" fill="#00ff00"/>
<rect x="1191" y="182" width="3" height="9" fill="#00ff00"/>
<rect x="1196" y="181" width="1" height="36" fill="#00ff00"/>
<rect x="1195" y="190" width="3" height="12" fill="#00ff00"/>
<rect x="1200" y="194" width="1" height="16" fill="#00ff00"/>
<rect x="1199" y="201" width="3" height="8" fill="#00ff00"/>
<rect x="1204" y="202" width="1" height="8" fill="#ff0000"/>
<rect x="1203" y="204" width="3" height="5" fill="#ff0000"/>
<rect x="1208" y="206" width="1" height="18" fill="#00ff00"/>
<rect x="1207" y="209" width="3" height="9" fill="#00ff00"/>
<rect x="1212" y="210" width="1" height="49" fill="#00ff00"/>
<rect x="1211" y="217" width="3" height="27" fill="#00ff00"/>
<rect x="1216" y="238" width="1" height="21" fill="#00ff00"/>
<rect x="1215" y="244" width="3" height="3" fill="#00ff00"/>
<rect x="1220" y="225" width="1" height="56" fill="#00ff00"/>
<rect x="1219" y="247" width="3" height="24" fill="#00ff00"/>
<rect x="1224" y="242" width="1" height="52" fill="#ff0000"/>
<rect x="1223" y="252" width="3" height="19" fill="#ff0000"/>
<rect x="1228" y="249" width="1" height="9" fill="#00ff00"/>
<rect x="1227" y="253" width="3" height="4" fill="#00ff00"/>
<rect x="1232" y="232" width="1" height="26" fill="#ff0000"/>
<rect x="1231" y="234" width="3" height="24" fill="#ff0000"/>
<rect x="1236" y="231" width="1" height="23" fill="#ff0000"/>
<rect x="1235" y="234" width="3" height="1" fill="#ff0000"/>
<rect x="1240" y="215" width="1" height="21" fill="#ff0000"/>
<rect x="1239" y="219" width="3" height="16" fill="#ff0000"/>
<rect x="1244" y="208" width="1" height="22" fill="#ff0000"/>
<rect x="1243" y="219" width="3" height="1" fill="#ff0000"/>
<rect x="1248" y="216" width="1" height="30" fill="#00ff00"/>
<rect x="1247" y="219" width="3" height="25" fill="#00ff00"/>
<rect x="1252" y="237" width="1" height="7" fill="#ff0000"/>
<rect x="1251" y="242" width="3" height="1" fill="#ff0000"/>
<rect x="1256" y="213" width="1" height="24" fill="#ff0000"/>
<rect x="1255" y="219" width="3" height="18" fill="#ff0000"/>
<rect x="1260" y="213" width="1" height="12" fill="#ff0000"/>
<rect x="1259" y="215" width="3" height="4" fill="#ff0000"/>
<rect x="1264" y="202" width="1" height="23" fill="#ff0000"/>
<rect x="1263" y="209" width="3" height="7" fill="#ff0000"/>
<rect x="1268" y="192" width="1" height="26" fill="#00ff00"/>
<rect x="1267" y="208" width="3" height="5" fill="#00ff00"/>
<rect x="1272" y="197" width="1" height="26" fill="#ff0000"/>
<rect x="1271" y="199" width="3" height="14" fill="#ff0000"/>
<rect x="1276" y="198" width="1" height="5" fill="#00ff00"/>
<rect x="1275" y="200" width="3" height="3" fill="#00ff00"/>
<rect x="1280" y="202" width="1" height="17" fill="#00ff00"/>
<rect x="1279" y="202" width="3" height="12" fill="#00ff00"/>
<rect x="1284" y="203" width="1" height="26" fill="#00ff00"/>
<rect x="1283" y="214" width="3" height="14" fill="#00ff00"/>
<rect x="1288" y="221" width="1" height="17" fill="#00ff00"/>
<rect x="1287" y="226" width="3" height="1" fill="#00ff00"/>
<rect x="1292" y="211" width="1" height="23" fill="#ff0000"/>
<rect x="1291" y="213" width="3" height="14" fill="#ff0000"/>
<rect x="1296" y="208" width="1" height="17" fill="#00ff00"/>
<rect x="1295" y="213" width="3" height="4" fill="#00ff00"/>
<rect x="1300" y="212" width="1" height="5" fill="#ff0000"/>
<rect x="1299" y="213" width="3" height="4" fill="#ff0000"/>
<rect x="1304" y="200" width="1" height="20" fill="#ff0000"/>
<rect x="1303" y="202" width="3" height="15" fill="#ff0000"/>
<rect x="1308" y="159" width="1" height="49" fill="#ff0000"/>
<rect x="1307" y="170" width="3" height="33" fill="#ff0000"/>
<rect x="1312" y="164" width="1" height="34" fill="#00ff00"/>
<rect x="1311" y="169" width="3" height="29" fill="#00ff00"/>
<rect x="1316" y="187" width="1" height="20" fill="#00ff00"/>
<rect x="1315" y="197" width="3" height="7" fill="#00ff00"/>
<rect x="1320" y="196" width="1" height="27" fill="#00ff00"/>
<rect x="1319" y="203" width="3" height="12" fill="#00ff00"/>
<rect x="1324" y="212" width="1" height="13" fill="#00ff00"/>
<rect x="1323" y="213" width="3" height="9" fill="#00ff00"/>
<rect x="1328" y="204" width="1" height="16" fill="#ff0000"/>
<rect x="1327" y="208" width="3" height="10" fill="#ff0000"/>
<rect x="1332" y="205" width="1" height="15" fill="#00ff00"/>
<rect x="1331" y="211" width="3" height="5" fill="#00ff00"/>
<rect x="1336" y="205" width="1" height="17" fill="#ff0000"/>
<rect x="1335" y="212" width="3" height="4" fill="#ff0000"/>
<rect x="1340" y="212" width="1" height="8" fill="#00ff00"/>
<rect x="1339" y="213" width="3" height="3" fill="#00ff00"/>
<polyline points="4.5,312.92 8.5,311.62 12.5,310.37 16.5,309.62 20.5,308.94 24.5,308.99 28.5,308.76 32.5,308.64 36.5,307.95 40.5,308.18 44.5,308.11 48.5,308.09 52.5,307.66 56.5,307.97 60.5,307.54 64.5,307.53 68.5,307.85 72.5,308.05 76.5,308.12 80.5,310.95 84.5,314.49 88.5,317.59 92.5,318.91 96.5,320.24 100.5,320.86 104.5,320.76 108.5,321.27 112.5,323.09 116.5,324.50 120.5,325.93 124.5,327.37 128.5,329.50 132.5,331.20 136.5,332.93 140.5,334.07 144.5,334.37 148.5,334.43 152.5,335.27 156.5,336.57 160.5,337.97 164.5,339.47 168.5,341.43 172.5,343.63 176.5,345.97 180.5,348.80 184.5,351.40 188.5,353.20 192.5,356.07 196.5,358.93 200.5,360.03 204.5,359.70 208.5,361.07 212.5,364.37 216.5,368.50 220.5,372.60 224.5,377.70 228.5,381.90 232.5,385.53 236.5,388.60 240.5,392.23 244.5,395.53 248.5,398.77 252.5,401.67 256.5,404.90 260.5,408.20 264.5,413.43 268.5,418.93 272.5,423.97 276.5,429.03 280.5,434.33 284.5,440.17 288.5,444.57 292.5,448.73 296.5,451.80 300.5,455.23 304.5,458.70 308.5,462.17 312.5,465.07 316.5,467.77 320.5,469.33 324.5,471.97 328.5,473.43 332.5,473.53 336.5,472.83 340.5,472.50 344.5,472.17 348.5,472.40 352.5,474.10 356.5,476.37 360.5,479.00 364.5,482.43 368.5,486.53 372.5,490.47 376.5,494.17 380.5,497.60 384.5,499.17 388.5,500.40 392.5,501.90 396.5,503.27 400.5,503.60 404.5,503.03 408.5,503.77 412.5,504.57 416.5,506.00 420.5,507.73 424.5,509.93 428.5,511.80 432.5,514.10 436.5,516.47 440.5,519.13 444.5,521.20 448.5,523.77 452.5,526.40 456.5,528.23 460.5,529.70 464.5,531.73 468.5,533.10 472.5,532.27 476.5,531.67 480.5,531.40 484.5,530.70 488.5,529.43 492.5,528.20 496.5,527.27 500.5,526.63 504.5,526.53 508.5,526.77 512.5,526.47 516.5,526.17 520.5,526.00 524.5,525.90 528.5,526.53 532.5,527.33 536.5,528.33 540.5,528.30 544.5,529.07 548.5,529.57 552.5,529.83 556.5,529.80 560.5,529.63 564.5,529.07 568.5,527.27 572.5,526.30 576.5,525.87 580.5,525.40 584.5,524.50 588.5,524.30 592.5,524.07 596.5,524.23 600.5,523.70 604.5,523.20 608.5,516.70 612.5,510.90 616.5,504.50 620.5,497.77 624.5,490.10 628.5,482.27 632.5,474.90 636.5,467.60 640.5,460.53 644.5,453.87 648.5,446.97 652.5,440.10 656.5,433.33 660.5,426.43 664.5,418.10 668.5,410.80 672.5,403.23 676.5,395.93 680.5,389.23 684.5,382.73 688.5,376.90 692.5,370.63 696.5,363.83 700.5,357.07 704.5,350.37 708.5,343.77 712.5,337.63 716.5,331.10 720.5,324.50 724.5,317.90 728.5,317.23 732.5,317.17 736.5,317.17 740.5,319.10 744.5,321.50 748.5,324.13 752.5,326.37 756.5,328.27 760.5,330.03 764.5,331.73 768.5,333.23 772.5,334.67 776.5,336.13 780.5,337.37 784.5,339.00 788.5,340.67 792.5,341.83 796.5,343.03 800.5,344.27 804.5,345.37 808.5,347.23 812.5,348.93 816.5,350.97 820.5,353.10 824.5,355.33 828.5,356.87 832.5,358.73 836.5,360.37 840.5,362.13 844.5,363.90 848.5,365.63 852.5,366.33 856.5,367.40 860.5,367.00 864.5,366.60 868.5,366.03 872.5,365.40 876.5,365.00 880.5,364.67 884.5,363.73 888.5,360.50 892.5,356.90 896.5,349.23 900.5,343.50 904.5,336.80 908.5,330.47 912.5,323.77 916.5,317.13 920.5,310.20 924.5,306.13 928.5,300.17 932.5,294.30 936.5,288.77 940.5,283.20 944.5,276.97 948.5,270.57 952.5,264.17 956.5,257.27 960.5,249.07 964.5,240.63 968.5,230.97 972.5,221.67 976.5,211.87 980.5,202.63 984.5,193.37 988.5,184.00 992.5,174.17 996.5,164.47 1000.5,155.93 1004.5,148.13 1008.5,143.33 1012.5,139.20 1016.5,138.40 1020.5,136.53 1024.5,135.70 1028.5,135.77 1032.5,137.97 1036.5,139.73 1040.5,140.90 1044.5,138.53 1048.5,137.57 1052.5,135.90 1056.5,134.60 1060.5,132.30 1064.5,130.50 1068.5,129.10 1072.5,126.90 1076.5,125.60 1080.5,125.37 1084.5,125.00 1088.5,125.90 1092.5,126.43 1096.5,127.07 1100.5,127.67 1104.5,129.23 1108.5,131.10 1112.5,133.00 1116.5,133.93 1120.5,134.10 1124.5,135.30 1128.5,136.33 1132.5,137.23 1136.5,138.83 1140.5,139.73 1144.5,140.20 1148.5,139.67 1152.5,138.13 1156.5,137.10 1160.5,136.83 1164.5,137.27 1168.5,137.80 1172.5,138.80 1176.5,139.77 1180.5,141.90 1184.5,143.70 1188.5,145.37 1192.5,147.93 1196.5,150.77 1200.5,154.03 1204.5,157.53 1208.5,161.37 1212.5,166.23 1216.5,171.20 1220.5,176.33 1224.5,180.33 1228.5,184.27 1232.5,188.23 1236.5,192.97 1240.5,196.80 1244.5,199.37 1248.5,202.03 1252.5,204.43 1256.5,205.87 1260.5,207.67 1264.5,209.70 1268.5,211.27 1272.5,212.33 1276.5,213.33 1280.5,214.63 1284.5,216.47 1288.5,217.97 1292.5,219.17 1296.5,220.10 1300.5,220.73 1304.5,221.37 1308.5,220.97 1312.5,221.20 1316.5,221.27 1320.5,221.47 1324.5,222.03 1328.5,221.73 1332.5,220.80 1336.5,219.67 1340.5,217.83" fill="none" stroke="#0000cd" stroke-width="1" />
<polyline points="4.5,309.46 8.5,309.32 12.5,309.54 16.5,311.04 20.5,312.48 24.5,314.77 28.5,315.24 32.5,314.65 36.5,311.98 40.5,311.12 44.5,309.86 48.5,308.91 52.5,307.44 56.5,307.79 60.5,307.36 64.5,307.93 68.5,308.86 72.5,308.14 76.5,306.79 80.5,309.71 84.5,315.07 88.5,320.07 92.5,323.79 96.5,326.93 100.5,330.14 104.5,331.86 108.5,335.50 112.5,340.14 116.5,345.07 120.5,348.93 124.5,351.29 128.5,355.29 132.5,359.00 136.5,358.14 140.5,354.43 144.5,350.71 148.5,348.50 152.5,346.86 156.5,345.64 160.5,348.00 164.5,348.86 168.5,348.21 172.5,348.43 176.5,350.71 180.5,353.29 184.5,354.86 188.5,356.00 192.5,357.71 196.5,360.07 200.5,364.71 204.5,369.21 208.5,375.36 212.5,383.36 216.5,392.36 220.5,401.14 224.5,409.57 228.5,417.50 232.5,424.93 236.5,430.36 240.5,436.43 244.5,442.00 248.5,446.79 252.5,450.57 256.5,454.29 260.5,458.36 264.5,462.93 268.5,465.43 272.5,465.71 276.5,466.57 280.5,469.36 284.5,473.71 288.5,474.71 292.5,477.29 296.5,478.36 300.5,481.21 304.5,483.29 308.5,485.64 312.5,486.64 316.5,487.71 320.5,484.50 324.5,482.86 328.5,481.36 332.5,478.71 336.5,474.86 340.5,470.43 344.5,468.71 348.5,468.21 352.5,472.71 356.5,475.64 360.5,479.93 364.5,485.43 368.5,492.79 372.5,499.21 376.5,507.50 380.5,513.29 384.5,518.07 388.5,523.00 392.5,528.00 396.5,532.50 400.5,536.71 404.5,539.36 408.5,538.29 412.5,537.71 416.5,536.21 420.5,535.43 424.5,533.43 428.5,531.36 432.5,529.36 436.5,528.14 440.5,527.29 444.5,527.43 448.5,528.21 452.5,528.29 456.5,527.64 460.5,527.57 464.5,528.64 468.5,529.36 472.5,529.00 476.5,526.93 480.5,525.93 484.5,525.93 488.5,525.64 492.5,524.36 496.5,524.93 500.5,524.93 504.5,524.00 508.5,523.79 512.5,524.21 516.5,524.93 520.5,524.43 524.5,523.93 528.5,526.00 532.5,528.43 536.5,529.64 540.5,530.29 544.5,532.64 548.5,534.29 552.5,534.86 556.5,534.93 560.5,533.93 564.5,532.36 568.5,529.93 572.5,528.57 576.5,527.36 580.5,526.50 584.5,524.29 588.5,522.86 592.5,519.86 596.5,518.21 600.5,514.43 604.5,512.29 608.5,497.50 612.5,483.86 616.5,471.07 620.5,457.86 624.5,444.36 628.5,429.43 632.5,415.00 636.5,401.07 640.5,387.36 644.5,373.00 648.5,360.79 652.5,348.14 656.5,336.00 660.5,322.93 664.5,321.36 668.5,319.79 672.5,317.86 676.5,316.71 680.5,317.79 684.5,319.07 688.5,319.93 692.5,320.79 696.5,320.14 700.5,319.07 704.5,317.29 708.5,316.43 712.5,314.79 716.5,313.93 720.5,313.86 724.5,313.21 728.5,313.21 732.5,315.07 736.5,316.64 740.5,321.50 744.5,325.64 748.5,329.79 752.5,334.71 756.5,339.36 760.5,343.79 764.5,347.21 768.5,351.36 772.5,355.79 776.5,360.93 780.5,364.64 784.5,368.00 788.5,370.14 792.5,370.71 796.5,368.00 800.5,366.57 804.5,364.57 808.5,364.64 812.5,365.07 816.5,365.00 820.5,364.86 824.5,364.64 828.5,364.00 832.5,363.21 836.5,363.21 840.5,363.43 844.5,363.00 848.5,364.21 852.5,365.00 856.5,366.21 860.5,367.86 864.5,367.14 868.5,366.43 872.5,365.64 876.5,364.86 880.5,363.79 884.5,361.93 888.5,355.14 892.5,348.36 896.5,333.29 900.5,320.93 904.5,306.21 908.5,293.29 912.5,277.21 916.5,261.14 920.5,245.71 924.5,236.21 928.5,224.86 932.5,213.57 936.5,202.36 940.5,192.29 944.5,185.64 948.5,179.00 952.5,180.93 956.5,178.43 960.5,175.43 964.5,170.50 968.5,165.36 972.5,160.43 976.5,155.50 980.5,146.07 984.5,138.29 988.5,130.07 992.5,120.07 996.5,110.43 1000.5,104.43 1004.5,99.57 1008.5,96.21 1012.5,95.36 1016.5,96.14 1020.5,97.86 1024.5,102.07 1028.5,109.21 1032.5,118.86 1036.5,126.36 1040.5,133.29 1044.5,138.79 1048.5,146.43 1052.5,152.36 1056.5,156.64 1060.5,158.36 1064.5,158.14 1068.5,157.36 1072.5,156.29 1076.5,155.00 1080.5,153.29 1084.5,147.43 1088.5,139.50 1092.5,131.93 1096.5,125.86 1100.5,122.79 1104.5,120.43 1108.5,119.79 1112.5,116.64 1116.5,113.93 1120.5,112.14 1124.5,112.86 1128.5,116.43 1132.5,120.29 1136.5,125.00 1140.5,129.43 1144.5,132.71 1148.5,137.57 1152.5,142.57 1156.5,146.57 1160.5,149.57 1164.5,152.00 1168.5,156.71 1172.5,162.79 1176.5,168.79 1180.5,172.50 1184.5,173.93 1188.5,174.79 1192.5,175.79 1196.5,178.64 1200.5,182.93 1204.5,185.71 1208.5,189.29 1212.5,194.36 1216.5,199.50 1220.5,206.50 1224.5,211.57 1228.5,217.21 1232.5,220.50 1236.5,223.36 1240.5,225.93 1244.5,228.57 1248.5,232.36 1252.5,235.29 1256.5,236.07 1260.5,236.86 1264.5,236.29 1268.5,234.07 1272.5,230.71 1276.5,225.86 1280.5,223.07 1284.5,221.00 1288.5,220.43 1292.5,218.93 1296.5,218.71 1300.5,218.29 1304.5,215.36 1308.5,210.21 1312.5,208.64 1316.5,207.79 1320.5,208.14 1324.5,208.79 1328.5,209.43 1332.5,210.36 1336.5,210.29 1340.5,209.43" fill="none" stroke="#ff0000" stroke-width="1" />
<polyline points="4.5,314.64 8.5,304.11 12.5,300.05 16.5,296.13 20.5,298.70 24.5,303.50 28.5,312.10 32.5,315.70 36.5,316.90 40.5,317.70 44.5,316.50 48.5,312.10 52.5,309.10 56.5,309.10 60.5,304.10 64.5,298.70 68.5,299.90 72.5,298.10 76.5,295.90 80.5,310.10 84.5,332.10 88.5,347.10 92.5,360.70 96.5,374.10 100.5,373.70 104.5,359.10 108.5,352.30 112.5,354.90 116.5,354.90 120.5,351.30 124.5,354.30 128.5,353.50 132.5,348.70 136.5,346.70 140.5,347.50 144.5,345.50 148.5,341.70 152.5,340.10 156.5,338.70 160.5,341.10 164.5,347.10 168.5,354.10 172.5,359.30 176.5,365.50 180.5,369.10 184.5,370.30 188.5,370.50 192.5,372.70 196.5,373.70 200.5,377.50 204.5,381.90 208.5,394.30 212.5,410.50 216.5,431.50 220.5,449.10 224.5,467.10 228.5,477.30 232.5,481.90 236.5,475.50 240.5,469.10 244.5,461.30 248.5,454.70 252.5,445.50 256.5,444.50 260.5,443.30 264.5,452.90 268.5,462.70 272.5,473.90 276.5,483.50 280.5,497.90 284.5,507.50 288.5,507.90 292.5,507.90 296.5,502.10 300.5,494.50 304.5,481.50 308.5,476.10 312.5,470.70 316.5,469.50 320.5,462.10 324.5,461.50 328.5,461.90 332.5,461.30 336.5,461.90 340.5,468.10 344.5,468.30 348.5,471.10 352.5,485.30 356.5,496.70 360.5,508.10 364.5,522.90 368.5,539.50 372.5,543.70 376.5,551.30 380.5,554.90 384.5,553.30 388.5,545.90 392.5,542.50 396.5,538.10 400.5,533.90 404.5,530.70 408.5,528.10 412.5,523.90 416.5,518.50 420.5,519.30 424.5,522.90 428.5,524.30 432.5,527.90 436.5,532.30 440.5,530.50 444.5,529.10 448.5,533.70 452.5,535.10 456.5,532.50 460.5,531.50 464.5,531.50 468.5,527.10 472.5,520.50 476.5,517.30 480.5,518.30 484.5,516.70 488.5,517.50 492.5,519.30 496.5,524.90 500.5,526.30 504.5,528.30 508.5,529.90 512.5,532.10 516.5,531.50 520.5,530.10 524.5,526.90 528.5,526.70 532.5,529.10 536.5,531.50 540.5,533.10 544.5,541.90 548.5,542.50 552.5,542.90 556.5,541.10 560.5,538.50 564.5,529.10 568.5,519.90 572.5,513.90 576.5,508.90 580.5,506.10 584.5,504.10 588.5,509.30 592.5,507.10 596.5,507.50 600.5,508.10 604.5,508.90 608.5,471.90 612.5,440.30 616.5,406.50 620.5,370.70 624.5,329.70 628.5,323.30 632.5,316.10 636.5,310.10 640.5,306.70 644.5,309.50 648.5,314.90 652.5,320.30 656.5,325.90 660.5,328.50 664.5,327.30 668.5,325.50 672.5,321.70 676.5,316.70 680.5,315.30 684.5,316.90 688.5,316.50 692.5,318.30 696.5,316.30 700.5,313.10 704.5,309.90 708.5,310.50 712.5,309.10 716.5,311.10 720.5,312.70 724.5,314.10 728.5,312.70 732.5,317.50 736.5,322.90 740.5,338.30 744.5,351.30 748.5,364.70 752.5,371.30 756.5,376.70 760.5,372.30 764.5,370.90 768.5,369.50 772.5,370.10 776.5,373.10 780.5,372.50 784.5,370.90 788.5,370.10 792.5,364.70 796.5,358.10 800.5,356.70 804.5,355.10 808.5,355.90 812.5,360.90 816.5,363.90 820.5,366.10 824.5,369.70 828.5,368.30 832.5,367.90 836.5,367.50 840.5,366.90 844.5,365.50 848.5,365.30 852.5,363.10 856.5,365.10 860.5,367.50 864.5,367.50 868.5,367.10 872.5,365.70 876.5,362.30 880.5,358.30 884.5,353.70 888.5,336.30 892.5,319.10 896.5,278.50 900.5,245.50 904.5,209.30 908.5,189.90 912.5,165.90 916.5,165.50 920.5,156.90 924.5,171.10 928.5,174.10 932.5,184.10 936.5,193.70 940.5,204.10 944.5,194.70 948.5,190.70 952.5,187.10 956.5,178.50 960.5,162.10 964.5,147.50 968.5,127.70 972.5,108.10 976.5,92.70 980.5,88.90 984.5,83.90 988.5,85.30 992.5,80.70 996.5,77.90 1000.5,78.10 1004.5,82.30 1008.5,92.30 1012.5,109.30 1016.5,122.10 1020.5,129.10 1024.5,134.70 1028.5,144.50 1032.5,158.50 1036.5,173.50 1040.5,183.10 1044.5,188.10 1048.5,184.90 1052.5,171.70 1056.5,162.90 1060.5,152.50 1064.5,146.50 1068.5,139.90 1072.5,133.10 1076.5,124.50 1080.5,120.50 1084.5,114.50 1088.5,108.50 1092.5,105.30 1096.5,101.50 1100.5,102.70 1104.5,109.30 1108.5,116.50 1112.5,120.10 1116.5,119.10 1120.5,116.70 1124.5,118.70 1128.5,123.70 1132.5,134.70 1136.5,151.50 1140.5,162.90 1144.5,164.10 1148.5,164.50 1152.5,163.90 1156.5,163.10 1160.5,165.70 1164.5,170.50 1168.5,173.70 1172.5,175.70 1176.5,178.90 1180.5,182.90 1184.5,185.10 1188.5,185.30 1192.5,187.90 1196.5,190.50 1200.5,193.30 1204.5,197.50 1208.5,204.50 1212.5,215.10 1216.5,224.10 1220.5,236.50 1224.5,246.10 1228.5,253.90 1232.5,252.10 1236.5,249.70 1240.5,239.50 1244.5,232.90 1248.5,230.30 1252.5,231.90 1256.5,228.90 1260.5,228.10 1264.5,226.10 1268.5,219.90 1272.5,211.30 1276.5,207.90 1280.5,207.50 1284.5,211.10 1288.5,213.90 1292.5,216.70 1296.5,219.50 1300.5,219.50 1304.5,214.50 1308.5,203.30 1312.5,200.10 1316.5,197.50 1320.5,197.70 1324.5,201.50 1328.5,209.10 1332.5,212.70 1336.5,214.50 1340.5,214.70" fill="none" stroke="#ffa500" stroke-width="1" />
</g>
<rect x="3" y="22" width="1682" height="1" fill="#000"/>
<rect x="3" y="589" width="1682" height="1" fill="#000"/>
<rect x="3" y="22" width="1" height="568" fill="#000"/>
<rect x="1684" y="22" width="1" height="568" fill="#000"/>
<rect x="4" y="42" width="1681" height="2" fill="#ff0000"/>
<rect x="4" y="133" width="1681" height="2" fill="#ff0000"/>
<rect x="4" y="243" width="1681" height="2" fill="#00ff00"/>
<rect x="4" y="342" width="1681" height="2" fill="#0000ff"/>
<rect x="4" y="422" width="1681" height="2" fill="#0000ff"/>
<rect x="3" y="241" width="6" height="6" fill="#00ff00"/>
<rect x="5" y="243" width="2" height="2" fill="#ffffff"/>
<rect x="1678" y="241" width="6" height="6" fill="#00ff00"/>
<rect x="1680" y="243" width="2" height="2" fill="#ffffff"/>
<rect x="3" y="340" width="6" height="6" fill="#0000ff"/>
<rect x="5" y="342" width="2" height="2" fill="#ffffff"/>
<rect x="1678" y="340" width="6" height="6" fill="#0000ff"/>
<rect x="1680" y="342" width="2" height="2" fill="#ffffff"/>
<rect x="3" y="420" width="6" height="6" fill="#0000ff"/>
<rect x="5" y="422" width="2" height="2" fill="#ffffff"/>
<rect x="1678" y="420" width="6" height="6" fill="#0000ff"/>
<rect x="1680" y="422" width="2" height="2" fill="#ffffff"/>
<rect x="1685" y="25" width="2" height="1" fill="#000"/>
<text x="1690.2" y="29" font-size="9.8" fill="#000" stroke="#000" stroke-width="0.15" textLength="32.6" lengthAdjust="spacingAndGlyphs">7.21925</text>
<rect x="1685" y="58" width="2" height="1" fill="#000"/>
<text x="1690.2" y="62" font-size="9.8" fill="#000" stroke="#000" stroke-width="0.15" textLength="32.6" lengthAdjust="spacingAndGlyphs">7.18600</text>
<rect x="1685" y="91" width="2" height="1" fill="#000"/>
<text x="1690.2" y="95" font-size="9.8" fill="#000" stroke="#000" stroke-width="0.15" textLength="32.6" lengthAdjust="spacingAndGlyphs">7.15370</text>
<rect x="1685" y="124" width="2" height="1" fill="#000"/>
<text x="1690.2" y="128" font-size="9.8" fill="#000" stroke="#000" stroke-width="0.15" textLength="32.6" lengthAdjust="spacingAndGlyphs">7.12045</text>
<rect x="1685" y="157" width="2" height="1" fill="#000"/>
<text x="1690.2" y="161" font-size="9.8" fill="#000" stroke="#000" stroke-width="0.15" textLength="32.6" lengthAdjust="spacingAndGlyphs">7.08720</text>
<rect x="1685" y="190" width="2" height="1" fill="#000"/>
<text x="1690.2" y="194" font-size="9.8" fill="#000" stroke="#000" stroke-width="0.15" textLength="32.6" lengthAdjust="spacingAndGlyphs">7.05395</text>
<rect x="1685" y="223" width="2" height="1" fill="#000"/>
<text x="1690.2" y="227" font-size="9.8" fill="#000" stroke="#000" stroke-width="0.15" textLength="32.6" lengthAdjust="spacingAndGlyphs">7.02165</text>
<rect x="1685" y="256" width="2" height="1" fill="#000"/>
<text x="1690.2" y="260" font-size="9.8" fill="#000" stroke="#000" stroke-width="0.15" textLength="32.6" lengthAdjust="spacingAndGlyphs">6.98840</text>
<rect x="1685" y="289" width="2" height="1" fill="#000"/>
<text x="1690.2" y="293" font-size="9.8" fill="#000" stroke="#000" stroke-width="0.15" textLength="32.6" lengthAdjust="spacingAndGlyphs">6.95515</text>
<rect x="1685" y="322" width="2" height="1" fill="#000"/>
<text x="1690.2" y="326" font-size="9.8" fill="#000" stroke="#000" stroke-width="0.15" textLength="32.6" lengthAdjust="spacingAndGlyphs">6.92285</text>
<rect x="1685" y="355" width="2" height="1" fill="#000"/>
<text x="1690.2" y="359" font-size="9.8" fill="#000" stroke="#000" stroke-width="0.15" textLength="32.6" lengthAdjust="spacingAndGlyphs">6.88960</text>
<rect x="1685" y="388" width="2" height="1" fill="#000"/>
<text x="1690.2" y="392" font-size="9.8" fill="#000" stroke="#000" stroke-width="0.15" textLength="32.6" lengthAdjust="spacingAndGlyphs">6.85635</text>
<rect x="1685" y="421" width="2" height="1" fill="#000"/>
<text x="1690.2" y="425" font-size="9.8" fill="#000" stroke="#000" stroke-width="0.15" textLength="32.6" lengthAdjust="spacingAndGlyphs">6.82310</text>
<rect x="1685" y="454" width="2" height="1" fill="#000"/>
<text x="1690.2" y="458" font-size="9.8" fill="#000" stroke="#000" stroke-width="0.15" textLength="32.6" lengthAdjust="spacingAndGlyphs">6.79080</text>
<rect x="1685" y="487" width="2" height="1" fill="#000"/>
<text x="1690.2" y="491" font-size="9.8" fill="#000" stroke="#000" stroke-width="0.15" textLength="32.6" lengthAdjust="spacingAndGlyphs">6.75755</text>
<rect x="1685" y="520" width="2" height="1" fill="#000"/>
<text x="1690.2" y="524" font-size="9.8" fill="#000" stroke="#000" stroke-width="0.15" textLength="32.6" lengthAdjust="spacingAndGlyphs">6.72430</text>
<rect x="1685" y="553" width="2" height="1" fill="#000"/>
<text x="1690.2" y="557" font-size="9.8" fill="#000" stroke="#000" stroke-width="0.15" textLength="32.6" lengthAdjust="spacingAndGlyphs">6.69105</text>
<rect x="1685" y="586" width="2" height="1" fill="#000"/>
<text x="1690.2" y="590" font-size="9.8" fill="#000" stroke="#000" stroke-width="0.15" textLength="32.6" lengthAdjust="spacingAndGlyphs">6.65875</text>
<rect x="1686" y="37" width="41" height="11" fill="#ff0000"/>
<text x="1690.2" y="46" font-size="9.8" fill="#fff" stroke="#fff" stroke-width="0.05" textLength="32.6" lengthAdjust="spacingAndGlyphs">7.20091</text>
<rect x="1686" y="128" width="41" height="11" fill="#ff0000"/>
<text x="1690.2" y="137" font-size="9.8" fill="#fff" stroke="#fff" stroke-width="0.05" textLength="32.6" lengthAdjust="spacingAndGlyphs">7.11043</text>
<rect x="1686" y="211" width="41" height="11" fill="#000"/>
<text x="1690.2" y="220" font-size="9.8" fill="#fff" stroke="#fff" stroke-width="0.05" textLength="32.6" lengthAdjust="spacingAndGlyphs">7.02889</text>
<rect x="1686" y="238" width="41" height="11" fill="#00ff00"/>
<text x="1690.2" y="247" font-size="9.8" fill="#fff" stroke="#fff" stroke-width="0.05" textLength="32.6" lengthAdjust="spacingAndGlyphs">6.99995</text>
<rect x="1686" y="337" width="41" height="11" fill="#0000ff"/>
<text x="1690.2" y="346" font-size="9.8" fill="#fff" stroke="#fff" stroke-width="0.05" textLength="32.6" lengthAdjust="spacingAndGlyphs">6.90105</text>
<rect x="1686" y="417" width="41" height="11" fill="#0000ff"/>
<text x="1690.2" y="426" font-size="9.8" fill="#fff" stroke="#fff" stroke-width="0.05" textLength="32.6" lengthAdjust="spacingAndGlyphs">6.82109</text>
<polygon points="7,29 14,29 10.5,33" fill="#000"/>
<text x="19" y="34" font-size="10.3" fill="#000" stroke="#000" stroke-width="0.15" textLength="65.5" lengthAdjust="spacingAndGlyphs">USDCNH,Daily</text>
<text x="91" y="34" font-size="10.3" fill="#000" stroke="#000" stroke-width="0.15" textLength="141" lengthAdjust="spacingAndGlyphs">7.03152 7.03206 7.02457 7.02889</text>
<polygon points="1342,23 1352,23 1347,28" fill="#a0a0a0"/>
<rect x="3" y="591" width="1682" height="1" fill="#000"/>
<rect x="3" y="695" width="1682" height="1" fill="#000"/>
<rect x="3" y="591" width="1" height="105" fill="#000"/>
<rect x="1684" y="591" width="1" height="105" fill="#000"/>
<rect x="4" y="623" width="3" height="1" fill="#c0c0c0"/>
<rect x="10" y="623" width="3" height="1" fill="#c0c0c0"/>
<rect x="16" y="623" width="3" height="1" fill="#c0c0c0"/>
<rect x="22" y="623" width="3" height="1" fill="#c0c0c0"/>
<rect x="28" y="623" width="3" height="1" fill="#c0c0c0"/>
<rect x="34" y="623" width="3" height="1" fill="#c0c0c0"/>
<rect x="40" y="623" width="3" height="1" fill="#c0c0c0"/>
<rect x="46" y="623" width="3" height="1" fill="#c0c0c0"/>
<rect x="52" y="623" width="3" height="1" fill="#c0c0c0"/>
<rect x="58" y="623" width="3" height="1" fill="#c0c0c0"/>
<rect x="64" y="623" width="3" height="1" fill="#c0c0c0"/>
<rect x="70" y="623" width="3" height="1" fill="#c0c0c0"/>
<rect x="76" y="623" width="3" height="1" fill="#c0c0c0"/>
<rect x="82" y="623" width="3" height="1" fill="#c0c0c0"/>
<rect x="88" y="623" width="3" height="1" fill="#c0c0c0"/>
<rect x="94" y="623" width="3" height="1" fill="#c0c0c0"/>
<rect x="100" y="623" width="3" height="1" fill="#c0c0c0"/>
<rect x="106" y="623" width="3" height="1" fill="#c0c0c0"/>
<rect x="112" y="623" width="3" height="1" fill="#c0c0c0"/>
<rect x="118" y="623" width="3" height="1" fill="#c0c0c0"/>
<rect x="124" y="623" width="3" height="1" fill="#c0c0c0"/>
<rect x="130" y="623" width="3" height="1" fill="#c0c0c0"/>
<rect x="136" y="623" width="3" height="1" fill="#c0c0c0"/>
<rect x="142" y="623" width="3" height="1" fill="#c0c0c0"/>
<rect x="148" y="623" width="3" height="1" fill="#c0c0c0"/>
<rect x="154" y="623" width="3" height="1" fill="#c0c0c0"/>
<rect x="160" y="623" width="3" height="1" fill="#c0c0c0"/>
<rect x="166" y="623" width="3" height="1" fill="#c0c0c0"/>
<rect x="172" y="623" width="3" height="1" fill="#c0c0c0"/>
<rect x="178" y="623" width="3" height="1" fill="#c0c0c0"/>
<rect x="184" y="623" width="3" height="1" fill="#c0c0c0"/>
<rect x="190" y="623" width="3" height="1" fill="#c0c0c0"/>
<rect x="196" y="623" width="3" height="1" fill="#c0c0c0"/>
<rect x="202" y="623" width="3" height="1" fill="#c0c0c0"/>
<rect x="208" y="623" width="3" height="1" fill="#c0c0c0"/>
<rect x="214" y="623" width="3" height="1" fill="#c0c0c0"/>
<rect x="220" y="623" width="3" height="1" fill="#c0c0c0"/>
<rect x="226" y="623" width="3" height="1" fill="#c0c0c0"/>
<rect x="232" y="623" width="3" height="1" fill="#c0c0c0"/>
<rect x="238" y="623" width="3" height="1" fill="#c0c0c0"/>
<rect x="244" y="623" width="3" height="1" fill="#c0c0c0"/>
<rect x="250" y="623" width="3" height="1" fill="#c0c0c0"/>
<rect x="256" y="623" width="3" height="1" fill="#c0c0c0"/>
<rect x="262" y="623" width="3" height="1" fill="#c0c0c0"/>
<rect x="268" y="623" width="3" height="1" fill="#c0c0c0"/>
<rect x="274" y="623" width="3" height="1" fill="#c0c0c0"/>
<rect x="280" y="623" width="3" height="1" fill="#c0c0c0"/>
<rect x="286" y="623" width="3" height="1" fill="#c0c0c0"/>
<rect x="292" y="623" width="3" height="1" fill="#c0c0c0"/>
<rect x="298" y="623" width="3" height="1" fill="#c0c0c0"/>
<rect x="304" y="623" width="3" height="1" fill="#c0c0c0"/>
<rect x="310" y="623" width="3" height="1" fill="#c0c0c0"/>
<rect x="316" y="623" width="3" height="1" fill="#c0c0c0"/>
<rect x="322" y="623" width="3" height="1" fill="#c0c0c0"/>
<rect x="328" y="623" width="3" height="1" fill="#c0c0c0"/>
<rect x="334" y="623" width="3" height="1" fill="#c0c0c0"/>
<rect x="340" y="623" width="3" height="1" fill="#c0c0c0"/>
<rect x="346" y="623" width="3" height="1" fill="#c0c0c0"/>
<rect x="352" y="623" width="3" height="1" fill="#c0c0c0"/>
<rect x="358" y="623" width="3" height="1" fill="#c0c0c0"/>
<rect x="364" y="623" width="3" height="1" fill="#c0c0c0"/>
<rect x="370" y="623" width="3" height="1" fill="#c0c0c0"/>
<rect x="376" y="623" width="3" height="1" fill="#c0c0c0"/>
<rect x="382" y="623" width="3" height="1" fill="#c0c0c0"/>
<rect x="388" y="623" width="3" height="1" fill="#c0c0c0"/>
<rect x="394" y="623" width="3" height="1" fill="#c0c0c0"/>
<rect x="400" y="623" width="3" height="1" fill="#c0c0c0"/>
<rect x="406" y="623" width="3" height="1" fill="#c0c0c0"/>
<rect x="412" y="623" width="3" height="1" fill="#c0c0c0"/>
<rect x="418" y="623" width="3" height="1" fill="#c0c0c0"/>
<rect x="424" y="623" width="3" height="1" fill="#c0c0c0"/>
<rect x="430" y="623" width="3" height="1" fill="#c0c0c0"/>
<rect x="436" y="623" width="3" height="1" fill="#c0c0c0"/>
<rect x="442" y="623" width="3" height="1" fill="#c0c0c0"/>
<rect x="448" y="623" width="3" height="1" fill="#c0c0c0"/>
<rect x="454" y="623" width="3" height="1" fill="#c0c0c0"/>
<rect x="460" y="623" width="3" height="1" fill="#c0c0c0"/>
<rect x="466" y="623" width="3" height="1" fill="#c0c0c0"/>
<rect x="472" y="623" width="3" height="1" fill="#c0c0c0"/>
<rect x="478" y="623" width="3" height="1" fill="#c0c0c0"/>
<rect x="484" y="623" width="3" height="1" fill="#c0c0c0"/>
<rect x="490" y="623" width="3" height="1" fill="#c0c0c0"/>
<rect x="496" y="623" width="3" height="1" fill="#c0c0c0"/>
<rect x="502" y="623" width="3" height="1" fill="#c0c0c0"/>
<rect x="508" y="623" width="3" height="1" fill="#c0c0c0"/>
<rect x="514" y="623" width="3" height="1" fill="#c0c0c0"/>
<rect x="520" y="623" width="3" height="1" fill="#c0c0c0"/>
<rect x="526" y="623" width="3" height="1" fill="#c0c0c0"/>
<rect x="532" y="623" width="3" height="1" fill="#c0c0c0"/>
<rect x="538" y="623" width="3" height="1" fill="#c0c0c0"/>
<rect x="544" y="623" width="3" height="1" fill="#c0c0c0"/>
<rect x="550" y="623" width="3" height="1" fill="#c0c0c0"/>
<rect x="556" y="623" width="3" height="1" fill="#c0c0c0"/>
<rect x="562" y="623" width="3" height="1" fill="#c0c0c0"/>
<rect x="568" y="623" width="3" height="1" fill="#c0c0c0"/>
<rect x="574" y="623" width="3" height="1" fill="#c0c0c0"/>
<rect x="580" y="623" width="3" height="1" fill="#c0c0c0"/>
<rect x="586" y="623" width="3" height="1" fill="#c0c0c0"/>
<rect x="592" y="623" width="3" height="1" fill="#c0c0c0"/>
<rect x="598" y="623" width="3" height="1" fill="#c0c0c0"/>
<rect x="604" y="623" width="3" height="1" fill="#c0c0c0"/>
<rect x="610" y="623" width="3" height="1" fill="#c0c0c0"/>
<rect x="616" y="623" width="3" height="1" fill="#c0c0c0"/>
<rect x="622" y="623" width="3" height="1" fill="#c0c0c0"/>
<rect x="628" y="623" width="3" height="1" fill="#c0c0c0"/>
<rect x="634" y="623" width="3" height="1" fill="#c0c0c0"/>
<rect x="640" y="623" width="3" height="1" fill="#c0c0c0"/>
<rect x="646" y="623" width="3" height="1" fill="#c0c0c0"/>
<rect x="652" y="623" width="3" height="1" fill="#c0c0c0"/>
<rect x="658" y="623" width="3" height="1" fill="#c0c0c0"/>
<rect x="664" y="623" width="3" height="1" fill="#c0c0c0"/>
<rect x="670" y="623" width="3" height="1" fill="#c0c0c0"/>
<rect x="676" y="623" width="3" height="1" fill="#c0c0c0"/>
<rect x="682" y="623" width="3" height="1" fill="#c0c0c0"/>
<rect x="688" y="623" width="3" height="1" fill="#c0c0c0"/>
<rect x="694" y="623" width="3" height="1" fill="#c0c0c0"/>
<rect x="700" y="623" width="3" height="1" fill="#c0c0c0"/>
<rect x="706" y="623" width="3" height="1" fill="#c0c0c0"/>
<rect x="712" y="623" width="3" height="1" fill="#c0c0c0"/>
<rect x="718" y="623" width="3" height="1" fill="#c0c0c0"/>
<rect x="724" y="623" width="3" height="1" fill="#c0c0c0"/>
<rect x="730" y="623" width="3" height="1" fill="#c0c0c0"/>
<rect x="736" y="623" width="3" height="1" fill="#c0c0c0"/>
<rect x="742" y="623" width="3" height="1" fill="#c0c0c0"/>
<rect x="748" y="623" width="3" height="1" fill="#c0c0c0"/>
<rect x="754" y="623" width="3" height="1" fill="#c0c0c0"/>
<rect x="760" y="623" width="3" height="1" fill="#c0c0c0"/>
<rect x="766" y="623" width="3" height="1" fill="#c0c0c0"/>
<rect x="772" y="623" width="3" height="1" fill="#c0c0c0"/>
<rect x="778" y="623" width="3" height="1" fill="#c0c0c0"/>
<rect x="784" y="623" width="3" height="1" fill="#c0c0c0"/>
<rect x="790" y="623" width="3" height="1" fill="#c0c0c0"/>
<rect x="796" y="623" width="3" height="1" fill="#c0c0c0"/>
<rect x="802" y="623" width="3" height="1" fill="#c0c0c0"/>
<rect x="808" y="623" width="3" height="1" fill="#c0c0c0"/>
<rect x="814" y="623" width="3" height="1" fill="#c0c0c0"/>
<rect x="820" y="623" width="3" height="1" fill="#c0c0c0"/>
<rect x="826" y="623" width="3" height="1" fill="#c0c0c0"/>
<rect x="832" y="623" width="3" height="1" fill="#c0c0c0"/>
<rect x="838" y="623" width="3" height="1" fill="#c0c0c0"/>
<rect x="844" y="623" width="3" height="1" fill="#c0c0c0"/>
<rect x="850" y="623" width="3" height="1" fill="#c0c0c0"/>
<rect x="856" y="623" width="3" height="1" fill="#c0c0c0"/>
<rect x="862" y="623" width="3" height="1" fill="#c0c0c0"/>
<rect x="868" y="623" width="3" height="1" fill="#c0c0c0"/>
<rect x="874" y="623" width="3" height="1" fill="#c0c0c0"/>
<rect x="880" y="623" width="3" height="1" fill="#c0c0c0"/>
<rect x="886" y="623" width="3" height="1" fill="#c0c0c0"/>
<rect x="892" y="623" width="3" height="1" fill="#c0c0c0"/>
<rect x="898" y="623" width="3" height="1" fill="#c0c0c0"/>
<rect x="904" y="623" width="3" height="1" fill="#c0c0c0"/>
<rect x="910" y="623" width="3" height="1" fill="#c0c0c0"/>
<rect x="916" y="623" width="3" height="1" fill="#c0c0c0"/>
<rect x="922" y="623" width="3" height="1" fill="#c0c0c0"/>
<rect x="928" y="623" width="3" height="1" fill="#c0c0c0"/>
<rect x="934" y="623" width="3" height="1" fill="#c0c0c0"/>
<rect x="940" y="623" width="3" height="1" fill="#c0c0c0"/>
<rect x="946" y="623" width="3" height="1" fill="#c0c0c0"/>
<rect x="952" y="623" width="3" height="1" fill="#c0c0c0"/>
<rect x="958" y="623" width="3" height="1" fill="#c0c0c0"/>
<rect x="964" y="623" width="3" height="1" fill="#c0c0c0"/>
<rect x="970" y="623" width="3" height="1" fill="#c0c0c0"/>
<rect x="976" y="623" width="3" height="1" fill="#c0c0c0"/>
<rect x="982" y="623" width="3" height="1" fill="#c0c0c0"/>
<rect x="988" y="623" width="3" height="1" fill="#c0c0c0"/>
<rect x="994" y="623" width="3" height="1" fill="#c0c0c0"/>
<rect x="1000" y="623" width="3" height="1" fill="#c0c0c0"/>
<rect x="1006" y="623" width="3" height="1" fill="#c0c0c0"/>
<rect x="1012" y="623" width="3" height="1" fill="#c0c0c0"/>
<rect x="1018" y="623" width="3" height="1" fill="#c0c0c0"/>
<rect x="1024" y="623" width="3" height="1" fill="#c0c0c0"/>
<rect x="1030" y="623" width="3" height="1" fill="#c0c0c0"/>
<rect x="1036" y="623" width="3" height="1" fill="#c0c0c0"/>
<rect x="1042" y="623" width="3" height="1" fill="#c0c0c0"/>
<rect x="1048" y="623" width="3" height="1" fill="#c0c0c0"/>
<rect x="1054" y="623" width="3" height="1" fill="#c0c0c0"/>
<rect x="1060" y="623" width="3" height="1" fill="#c0c0c0"/>
<rect x="1066" y="623" width="3" height="1" fill="#c0c0c0"/>
<rect x="1072" y="623" width="3" height="1" fill="#c0c0c0"/>
<rect x="1078" y="623" width="3" height="1" fill="#c0c0c0"/>
<rect x="1084" y="623" width="3" height="1" fill="#c0c0c0"/>
<rect x="1090" y="623" width="3" height="1" fill="#c0c0c0"/>
<rect x="1096" y="623" width="3" height="1" fill="#c0c0c0"/>
<rect x="1102" y="623" width="3" height="1" fill="#c0c0c0"/>
<rect x="1108" y="623" width="3" height="1" fill="#c0c0c0"/>
<rect x="1114" y="623" width="3" height="1" fill="#c0c0c0"/>
<rect x="1120" y="623" width="3" height="1" fill="#c0c0c0"/>
<rect x="1126" y="623" width="3" height="1" fill="#c0c0c0"/>
<rect x="1132" y="623" width="3" height="1" fill="#c0c0c0"/>
<rect x="1138" y="623" width="3" height="1" fill="#c0c0c0"/>
<rect x="1144" y="623" width="3" height="1" fill="#c0c0c0"/>
<rect x="1150" y="623" width="3" height="1" fill="#c0c0c0"/>
<rect x="1156" y="623" width="3" height="1" fill="#c0c0c0"/>
<rect x="1162" y="623" width="3" height="1" fill="#c0c0c0"/>
<rect x="1168" y="623" width="3" height="1" fill="#c0c0c0"/>
<rect x="1174" y="623" width="3" height="1" fill="#c0c0c0"/>
<rect x="1180" y="623" width="3" height="1" fill="#c0c0c0"/>
<rect x="1186" y="623" width="3" height="1" fill="#c0c0c0"/>
<rect x="1192" y="623" width="3" height="1" fill="#c0c0c0"/>
<rect x="1198" y="623" width="3" height="1" fill="#c0c0c0"/>
<rect x="1204" y="623" width="3" height="1" fill="#c0c0c0"/>
<rect x="1210" y="623" width="3" height="1" fill="#c0c0c0"/>
<rect x="1216" y="623" width="3" height="1" fill="#c0c0c0"/>
<rect x="1222" y="623" width="3" height="1" fill="#c0c0c0"/>
<rect x="1228" y="623" width="3" height="1" fill="#c0c0c0"/>
<rect x="1234" y="623" width="3" height="1" fill="#c0c0c0"/>
<rect x="1240" y="623" width="3" height="1" fill="#c0c0c0"/>
<rect x="1246" y="623" width="3" height="1" fill="#c0c0c0"/>
<rect x="1252" y="623" width="3" height="1" fill="#c0c0c0"/>
<rect x="1258" y="623" width="3" height="1" fill="#c0c0c0"/>
<rect x="1264" y="623" width="3" height="1" fill="#c0c0c0"/>
<rect x="1270" y="623" width="3" height="1" fill="#c0c0c0"/>
<rect x="1276" y="623" width="3" height="1" fill="#c0c0c0"/>
<rect x="1282" y="623" width="3" height="1" fill="#c0c0c0"/>
<rect x="1288" y="623" width="3" height="1" fill="#c0c0c0"/>
<rect x="1294" y="623" width="3" height="1" fill="#c0c0c0"/>
<rect x="1300" y="623" width="3" height="1" fill="#c0c0c0"/>
<rect x="1306" y="623" width="3" height="1" fill="#c0c0c0"/>
<rect x="1312" y="623" width="3" height="1" fill="#c0c0c0"/>
<rect x="1318" y="623" width="3" height="1" fill="#c0c0c0"/>
<rect x="1324" y="623" width="3" height="1" fill="#c0c0c0"/>
<rect x="1330" y="623" width="3" height="1" fill="#c0c0c0"/>
<rect x="1336" y="623" width="3" height="1" fill="#c0c0c0"/>
<rect x="1342" y="623" width="3" height="1" fill="#c0c0c0"/>
<rect x="1348" y="623" width="3" height="1" fill="#c0c0c0"/>
<rect x="1354" y="623" width="3" height="1" fill="#c0c0c0"/>
<rect x="1360" y="623" width="3" height="1" fill="#c0c0c0"/>
<rect x="1366" y="623" width="3" height="1" fill="#c0c0c0"/>
<rect x="1372" y="623" width="3" height="1" fill="#c0c0c0"/>
<rect x="1378" y="623" width="3" height="1" fill="#c0c0c0"/>
<rect x="1384" y="623" width="3" height="1" fill="#c0c0c0"/>
<rect x="1390" y="623" width="3" height="1" fill="#c0c0c0"/>
<rect x="1396" y="623" width="3" height="1" fill="#c0c0c0"/>
<rect x="1402" y="623" width="3" height="1" fill="#c0c0c0"/>
<rect x="1408" y="623" width="3" height="1" fill="#c0c0c0"/>
<rect x="1414" y="623" width="3" height="1" fill="#c0c0c0"/>
<rect x="1420" y="623" width="3" height="1" fill="#c0c0c0"/>
<rect x="1426" y="623" width="3" height="1" fill="#c0c0c0"/>
<rect x="1432" y="623" width="3" height="1" fill="#c0c0c0"/>
<rect x="1438" y="623" width="3" height="1" fill="#c0c0c0"/>
<rect x="1444" y="623" width="3" height="1" fill="#c0c0c0"/>
<rect x="1450" y="623" width="3" height="1" fill="#c0c0c0"/>
<rect x="1456" y="623" width="3" height="1" fill="#c0c0c0"/>
<rect x="1462" y="623" width="3" height="1" fill="#c0c0c0"/>
<rect x="1468" y="623" width="3" height="1" fill="#c0c0c0"/>
<rect x="1474" y="623" width="3" height="1" fill="#c0c0c0"/>
<rect x="1480" y="623" width="3" height="1" fill="#c0c0c0"/>
<rect x="1486" y="623" width="3" height="1" fill="#c0c0c0"/>
<rect x="1492" y="623" width="3" height="1" fill="#c0c0c0"/>
<rect x="1498" y="623" width="3" height="1" fill="#c0c0c0"/>
<rect x="1504" y="623" width="3" height="1" fill="#c0c0c0"/>
<rect x="1510" y="623" width="3" height="1" fill="#c0c0c0"/>
<rect x="1516" y="623" width="3" height="1" fill="#c0c0c0"/>
<rect x="1522" y="623" width="3" height="1" fill="#c0c0c0"/>
<rect x="1528" y="623" width="3" height="1" fill="#c0c0c0"/>
<rect x="1534" y="623" width="3" height="1" fill="#c0c0c0"/>
<rect x="1540" y="623" width="3" height="1" fill="#c0c0c0"/>
<rect x="1546" y="623" width="3" height="1" fill="#c0c0c0"/>
<rect x="1552" y="623" width="3" height="1" fill="#c0c0c0"/>
<rect x="1558" y="623" width="3" height="1" fill="#c0c0c0"/>
<rect x="1564" y="623" width="3" height="1" fill="#c0c0c0"/>
<rect x="1570" y="623" width="3" height="1" fill="#c0c0c0"/>
<rect x="1576" y="623" width="3" height="1" fill="#c0c0c0"/>
<rect x="1582" y="623" width="3" height="1" fill="#c0c0c0"/>
<rect x="1588" y="623" width="3" height="1" fill="#c0c0c0"/>
<rect x="1594" y="623" width="3" height="1" fill="#c0c0c0"/>
<rect x="1600" y="623" width="3" height="1" fill="#c0c0c0"/>
<rect x="1606" y="623" width="3" height="1" fill="#c0c0c0"/>
<rect x="1612" y="623" width="3" height="1" fill="#c0c0c0"/>
<rect x="1618" y="623" width="3" height="1" fill="#c0c0c0"/>
<rect x="1624" y="623" width="3" height="1" fill="#c0c0c0"/>
<rect x="1630" y="623" width="3" height="1" fill="#c0c0c0"/>
<rect x="1636" y="623" width="3" height="1" fill="#c0c0c0"/>
<rect x="1642" y="623" width="3" height="1" fill="#c0c0c0"/>
<rect x="1648" y="623" width="3" height="1" fill="#c0c0c0"/>
<rect x="1654" y="623" width="3" height="1" fill="#c0c0c0"/>
<rect x="1660" y="623" width="3" height="1" fill="#c0c0c0"/>
<rect x="1666" y="623" width="3" height="1" fill="#c0c0c0"/>
<rect x="1672" y="623" width="3" height="1" fill="#c0c0c0"/>
<rect x="1678" y="623" width="3" height="1" fill="#c0c0c0"/>
<rect x="4" y="664" width="3" height="1" fill="#c0c0c0"/>
<rect x="10" y="664" width="3" height="1" fill="#c0c0c0"/>
<rect x="16" y="664" width="3" height="1" fill="#c0c0c0"/>
<rect x="22" y="664" width="3" height="1" fill="#c0c0c0"/>
<rect x="28" y="664" width="3" height="1" fill="#c0c0c0"/>
<rect x="34" y="664" width="3" height="1" fill="#c0c0c0"/>
<rect x="40" y="664" width="3" height="1" fill="#c0c0c0"/>
<rect x="46" y="664" width="3" height="1" fill="#c0c0c0"/>
<rect x="52" y="664" width="3" height="1" fill="#c0c0c0"/>
<rect x="58" y="664" width="3" height="1" fill="#c0c0c0"/>
<rect x="64" y="664" width="3" height="1" fill="#c0c0c0"/>
<rect x="70" y="664" width="3" height="1" fill="#c0c0c0"/>
<rect x="76" y="664" width="3" height="1" fill="#c0c0c0"/>
<rect x="82" y="664" width="3" height="1" fill="#c0c0c0"/>
<rect x="88" y="664" width="3" height="1" fill="#c0c0c0"/>
<rect x="94" y="664" width="3" height="1" fill="#c0c0c0"/>
<rect x="100" y="664" width="3" height="1" fill="#c0c0c0"/>
<rect x="106" y="664" width="3" height="1" fill="#c0c0c0"/>
<rect x="112" y="664" width="3" height="1" fill="#c0c0c0"/>
<rect x="118" y="664" width="3" height="1" fill="#c0c0c0"/>
<rect x="124" y="664" width="3" height="1" fill="#c0c0c0"/>
<rect x="130" y="664" width="3" height="1" fill="#c0c0c0"/>
<rect x="136" y="664" width="3" height="1" fill="#c0c0c0"/>
<rect x="142" y="664" width="3" height="1" fill="#c0c0c0"/>
<rect x="148" y="664" width="3" height="1" fill="#c0c0c0"/>
<rect x="154" y="664" width="3" height="1" fill="#c0c0c0"/>
<rect x="160" y="664" width="3" height="1" fill="#c0c0c0"/>
<rect x="166" y="664" width="3" height="1" fill="#c0c0c0"/>
<rect x="172" y="664" width="3" height="1" fill="#c0c0c0"/>
<rect x="178" y="664" width="3" height="1" fill="#c0c0c0"/>
<rect x="184" y="664" width="3" height="1" fill="#c0c0c0"/>
<rect x="190" y="664" width="3" height="1" fill="#c0c0c0"/>
<rect x="196" y="664" width="3" height="1" fill="#c0c0c0"/>
<rect x="202" y="664" width="3" height="1" fill="#c0c0c0"/>
<rect x="208" y="664" width="3" height="1" fill="#c0c0c0"/>
<rect x="214" y="664" width="3" height="1" fill="#c0c0c0"/>
<rect x="220" y="664" width="3" height="1" fill="#c0c0c0"/>
<rect x="226" y="664" width="3" height="1" fill="#c0c0c0"/>
<rect x="232" y="664" width="3" height="1" fill="#c0c0c0"/>
<rect x="238" y="664" width="3" height="1" fill="#c0c0c0"/>
<rect x="244" y="664" width="3" height="1" fill="#c0c0c0"/>
<rect x="250" y="664" width="3" height="1" fill="#c0c0c0"/>
<rect x="256" y="664" width="3" height="1" fill="#c0c0c0"/>
<rect x="262" y="664" width="3" height="1" fill="#c0c0c0"/>
<rect x="268" y="664" width="3" height="1" fill="#c0c0c0"/>
<rect x="274" y="664" width="3" height="1" fill="#c0c0c0"/>
<rect x="280" y="664" width="3" height="1" fill="#c0c0c0"/>
<rect x="286" y="664" width="3" height="1" fill="#c0c0c0"/>
<rect x="292" y="664" width="3" height="1" fill="#c0c0c0"/>
<rect x="298" y="664" width="3" height="1" fill="#c0c0c0"/>
<rect x="304" y="664" width="3" height="1" fill="#c0c0c0"/>
<rect x="310" y="664" width="3" height="1" fill="#c0c0c0"/>
<rect x="316" y="664" width="3" height="1" fill="#c0c0c0"/>
<rect x="322" y="664" width="3" height="1" fill="#c0c0c0"/>
<rect x="328" y="664" width="3" height="1" fill="#c0c0c0"/>
<rect x="334" y="664" width="3" height="1" fill="#c0c0c0"/>
<rect x="340" y="664" width="3" height="1" fill="#c0c0c0"/>
<rect x="346" y="664" width="3" height="1" fill="#c0c0c0"/>
<rect x="352" y="664" width="3" height="1" fill="#c0c0c0"/>
<rect x="358" y="664" width="3" height="1" fill="#c0c0c0"/>
<rect x="364" y="664" width="3" height="1" fill="#c0c0c0"/>
<rect x="370" y="664" width="3" height="1" fill="#c0c0c0"/>
<rect x="376" y="664" width="3" height="1" fill="#c0c0c0"/>
<rect x="382" y="664" width="3" height="1" fill="#c0c0c0"/>
<rect x="388" y="664" width="3" height="1" fill="#c0c0c0"/>
<rect x="394" y="664" width="3" height="1" fill="#c0c0c0"/>
<rect x="400" y="664" width="3" height="1" fill="#c0c0c0"/>
<rect x="406" y="664" width="3" height="1" fill="#c0c0c0"/>
<rect x="412" y="664" width="3" height="1" fill="#c0c0c0"/>
<rect x="418" y="664" width="3" height="1" fill="#c0c0c0"/>
<rect x="424" y="664" width="3" height="1" fill="#c0c0c0"/>
<rect x="430" y="664" width="3" height="1" fill="#c0c0c0"/>
<rect x="436" y="664" width="3" height="1" fill="#c0c0c0"/>
<rect x="442" y="664" width="3" height="1" fill="#c0c0c0"/>
<rect x="448" y="664" width="3" height="1" fill="#c0c0c0"/>
<rect x="454" y="664" width="3" height="1" fill="#c0c0c0"/>
<rect x="460" y="664" width="3" height="1" fill="#c0c0c0"/>
<rect x="466" y="664" width="3" height="1" fill="#c0c0c0"/>
<rect x="472" y="664" width="3" height="1" fill="#c0c0c0"/>
<rect x="478" y="664" width="3" height="1" fill="#c0c0c0"/>
<rect x="484" y="664" width="3" height="1" fill="#c0c0c0"/>
<rect x="490" y="664" width="3" height="1" fill="#c0c0c0"/>
<rect x="496" y="664" width="3" height="1" fill="#c0c0c0"/>
<rect x="502" y="664" width="3" height="1" fill="#c0c0c0"/>
<rect x="508" y="664" width="3" height="1" fill="#c0c0c0"/>
<rect x="514" y="664" width="3" height="1" fill="#c0c0c0"/>
<rect x="520" y="664" width="3" height="1" fill="#c0c0c0"/>
<rect x="526" y="664" width="3" height="1" fill="#c0c0c0"/>
<rect x="532" y="664" width="3" height="1" fill="#c0c0c0"/>
<rect x="538" y="664" width="3" height="1" fill="#c0c0c0"/>
<rect x="544" y="664" width="3" height="1" fill="#c0c0c0"/>
<rect x="550" y="664" width="3" height="1" fill="#c0c0c0"/>
<rect x="556" y="664" width="3" height="1" fill="#c0c0c0"/>
<rect x="562" y="664" width="3" height="1" fill="#c0c0c0"/>
<rect x="568" y="664" width="3" height="1" fill="#c0c0c0"/>
<rect x="574" y="664" width="3" height="1" fill="#c0c0c0"/>
<rect x="580" y="664" width="3" height="1" fill="#c0c0c0"/>
<rect x="586" y="664" width="3" height="1" fill="#c0c0c0"/>
<rect x="592" y="664" width="3" height="1" fill="#c0c0c0"/>
<rect x="598" y="664" width="3" height="1" fill="#c0c0c0"/>
<rect x="604" y="664" width="3" height="1" fill="#c0c0c0"/>
<rect x="610" y="664" width="3" height="1" fill="#c0c0c0"/>
<rect x="616" y="664" width="3" height="1" fill="#c0c0c0"/>
<rect x="622" y="664" width="3" height="1" fill="#c0c0c0"/>
<rect x="628" y="664" width="3" height="1" fill="#c0c0c0"/>
<rect x="634" y="664" width="3" height="1" fill="#c0c0c0"/>
<rect x="640" y="664" width="3" height="1" fill="#c0c0c0"/>
<rect x="646" y="664" width="3" height="1" fill="#c0c0c0"/>
<rect x="652" y="664" width="3" height="1" fill="#c0c0c0"/>
<rect x="658" y="664" width="3" height="1" fill="#c0c0c0"/>
<rect x="664" y="664" width="3" height="1" fill="#c0c0c0"/>
<rect x="670" y="664" width="3" height="1" fill="#c0c0c0"/>
<rect x="676" y="664" width="3" height="1" fill="#c0c0c0"/>
<rect x="682" y="664" width="3" height="1" fill="#c0c0c0"/>
<rect x="688" y="664" width="3" height="1" fill="#c0c0c0"/>
<rect x="694" y="664" width="3" height="1" fill="#c0c0c0"/>
<rect x="700" y="664" width="3" height="1" fill="#c0c0c0"/>
<rect x="706" y="664" width="3" height="1" fill="#c0c0c0"/>
<rect x="712" y="664" width="3" height="1" fill="#c0c0c0"/>
<rect x="718" y="664" width="3" height="1" fill="#c0c0c0"/>
<rect x="724" y="664" width="3" height="1" fill="#c0c0c0"/>
<rect x="730" y="664" width="3" height="1" fill="#c0c0c0"/>
<rect x="736" y="664" width="3" height="1" fill="#c0c0c0"/>
<rect x="742" y="664" width="3" height="1" fill="#c0c0c0"/>
<rect x="748" y="664" width="3" height="1" fill="#c0c0c0"/>
<rect x="754" y="664" width="3" height="1" fill="#c0c0c0"/>
<rect x="760" y="664" width="3" height="1" fill="#c0c0c0"/>
<rect x="766" y="664" width="3" height="1" fill="#c0c0c0"/>
<rect x="772" y="664" width="3" height="1" fill="#c0c0c0"/>
<rect x="778" y="664" width="3" height="1" fill="#c0c0c0"/>
<rect x="784" y="664" width="3" height="1" fill="#c0c0c0"/>
<rect x="790" y="664" width="3" height="1" fill="#c0c0c0"/>
<rect x="796" y="664" width="3" height="1" fill="#c0c0c0"/>
<rect x="802" y="664" width="3" height="1" fill="#c0c0c0"/>
<rect x="808" y="664" width="3" height="1" fill="#c0c0c0"/>
<rect x="814" y="664" width="3" height="1" fill="#c0c0c0"/>
<rect x="820" y="664" width="3" height="1" fill="#c0c0c0"/>
<rect x="826" y="664" width="3" height="1" fill="#c0c0c0"/>
<rect x="832" y="664" width="3" height="1" fill="#c0c0c0"/>
<rect x="838" y="664" width="3" height="1" fill="#c0c0c0"/>
<rect x="844" y="664" width="3" height="1" fill="#c0c0c0"/>
<rect x="850" y="664" width="3" height="1" fill="#c0c0c0"/>
<rect x="856" y="664" width="3" height="1" fill="#c0c0c0"/>
<rect x="862" y="664" width="3" height="1" fill="#c0c0c0"/>
<rect x="868" y="664" width="3" height="1" fill="#c0c0c0"/>
<rect x="874" y="664" width="3" height="1" fill="#c0c0c0"/>
<rect x="880" y="664" width="3" height="1" fill="#c0c0c0"/>
<rect x="886" y="664" width="3" height="1" fill="#c0c0c0"/>
<rect x="892" y="664" width="3" height="1" fill="#c0c0c0"/>
<rect x="898" y="664" width="3" height="1" fill="#c0c0c0"/>
<rect x="904" y="664" width="3" height="1" fill="#c0c0c0"/>
<rect x="910" y="664" width="3" height="1" fill="#c0c0c0"/>
<rect x="916" y="664" width="3" height="1" fill="#c0c0c0"/>
<rect x="922" y="664" width="3" height="1" fill="#c0c0c0"/>
<rect x="928" y="664" width="3" height="1" fill="#c0c0c0"/>
<rect x="934" y="664" width="3" height="1" fill="#c0c0c0"/>
<rect x="940" y="664" width="3" height="1" fill="#c0c0c0"/>
<rect x="946" y="664" width="3" height="1" fill="#c0c0c0"/>
<rect x="952" y="664" width="3" height="1" fill="#c0c0c0"/>
<rect x="958" y="664" width="3" height="1" fill="#c0c0c0"/>
<rect x="964" y="664" width="3" height="1" fill="#c0c0c0"/>
<rect x="970" y="664" width="3" height="1" fill="#c0c0c0"/>
<rect x="976" y="664" width="3" height="1" fill="#c0c0c0"/>
<rect x="982" y="664" width="3" height="1" fill="#c0c0c0"/>
<rect x="988" y="664" width="3" height="1" fill="#c0c0c0"/>
<rect x="994" y="664" width="3" height="1" fill="#c0c0c0"/>
<rect x="1000" y="664" width="3" height="1" fill="#c0c0c0"/>
<rect x="1006" y="664" width="3" height="1" fill="#c0c0c0"/>
<rect x="1012" y="664" width="3" height="1" fill="#c0c0c0"/>
<rect x="1018" y="664" width="3" height="1" fill="#c0c0c0"/>
<rect x="1024" y="664" width="3" height="1" fill="#c0c0c0"/>
<rect x="1030" y="664" width="3" height="1" fill="#c0c0c0"/>
<rect x="1036" y="664" width="3" height="1" fill="#c0c0c0"/>
<rect x="1042" y="664" width="3" height="1" fill="#c0c0c0"/>
<rect x="1048" y="664" width="3" height="1" fill="#c0c0c0"/>
<rect x="1054" y="664" width="3" height="1" fill="#c0c0c0"/>
<rect x="1060" y="664" width="3" height="1" fill="#c0c0c0"/>
<rect x="1066" y="664" width="3" height="1" fill="#c0c0c0"/>
<rect x="1072" y="664" width="3" height="1" fill="#c0c0c0"/>
<rect x="1078" y="664" width="3" height="1" fill="#c0c0c0"/>
<rect x="1084" y="664" width="3" height="1" fill="#c0c0c0"/>
<rect x="1090" y="664" width="3" height="1" fill="#c0c0c0"/>
<rect x="1096" y="664" width="3" height="1" fill="#c0c0c0"/>
<rect x="1102" y="664" width="3" height="1" fill="#c0c0c0"/>
<rect x="1108" y="664" width="3" height="1" fill="#c0c0c0"/>
<rect x="1114" y="664" width="3" height="1" fill="#c0c0c0"/>
<rect x="1120" y="664" width="3" height="1" fill="#c0c0c0"/>
<rect x="1126" y="664" width="3" height="1" fill="#c0c0c0"/>
<rect x="1132" y="664" width="3" height="1" fill="#c0c0c0"/>
<rect x="1138" y="664" width="3" height="1" fill="#c0c0c0"/>
<rect x="1144" y="664" width="3" height="1" fill="#c0c0c0"/>
<rect x="1150" y="664" width="3" height="1" fill="#c0c0c0"/>
<rect x="1156" y="664" width="3" height="1" fill="#c0c0c0"/>
<rect x="1162" y="664" width="3" height="1" fill="#c0c0c0"/>
<rect x="1168" y="664" width="3" height="1" fill="#c0c0c0"/>
<rect x="1174" y="664" width="3" height="1" fill="#c0c0c0"/>
<rect x="1180" y="664" width="3" height="1" fill="#c0c0c0"/>
<rect x="1186" y="664" width="3" height="1" fill="#c0c0c0"/>
<rect x="1192" y="664" width="3" height="1" fill="#c0c0c0"/>
<rect x="1198" y="664" width="3" height="1" fill="#c0c0c0"/>
<rect x="1204" y="664" width="3" height="1" fill="#c0c0c0"/>
<rect x="1210" y="664" width="3" height="1" fill="#c0c0c0"/>
<rect x="1216" y="664" width="3" height="1" fill="#c0c0c0"/>
<rect x="1222" y="664" width="3" height="1" fill="#c0c0c0"/>
<rect x="1228" y="664" width="3" height="1" fill="#c0c0c0"/>
<rect x="1234" y="664" width="3" height="1" fill="#c0c0c0"/>
<rect x="1240" y="664" width="3" height="1" fill="#c0c0c0"/>
<rect x="1246" y="664" width="3" height="1" fill="#c0c0c0"/>
<rect x="1252" y="664" width="3" height="1" fill="#c0c0c0"/>
<rect x="1258" y="664" width="3" height="1" fill="#c0c0c0"/>
<rect x="1264" y="664" width="3" height="1" fill="#c0c0c0"/>
<rect x="1270" y="664" width="3" height="1" fill="#c0c0c0"/>
<rect x="1276" y="664" width="3" height="1" fill="#c0c0c0"/>
<rect x="1282" y="664" width="3" height="1" fill="#c0c0c0"/>
<rect x="1288" y="664" width="3" height="1" fill="#c0c0c0"/>
<rect x="1294" y="664" width="3" height="1" fill="#c0c0c0"/>
<rect x="1300" y="664" width="3" height="1" fill="#c0c0c0"/>
<rect x="1306" y="664" width="3" height="1" fill="#c0c0c0"/>
<rect x="1312" y="664" width="3" height="1" fill="#c0c0c0"/>
<rect x="1318" y="664" width="3" height="1" fill="#c0c0c0"/>
<rect x="1324" y="664" width="3" height="1" fill="#c0c0c0"/>
<rect x="1330" y="664" width="3" height="1" fill="#c0c0c0"/>
<rect x="1336" y="664" width="3" height="1" fill="#c0c0c0"/>
<rect x="1342" y="664" width="3" height="1" fill="#c0c0c0"/>
<rect x="1348" y="664" width="3" height="1" fill="#c0c0c0"/>
<rect x="1354" y="664" width="3" height="1" fill="#c0c0c0"/>
<rect x="1360" y="664" width="3" height="1" fill="#c0c0c0"/>
<rect x="1366" y="664" width="3" height="1" fill="#c0c0c0"/>
<rect x="1372" y="664" width="3" height="1" fill="#c0c0c0"/>
<rect x="1378" y="664" width="3" height="1" fill="#c0c0c0"/>
<rect x="1384" y="664" width="3" height="1" fill="#c0c0c0"/>
<rect x="1390" y="664" width="3" height="1" fill="#c0c0c0"/>
<rect x="1396" y="664" width="3" height="1" fill="#c0c0c0"/>
<rect x="1402" y="664" width="3" height="1" fill="#c0c0c0"/>
<rect x="1408" y="664" width="3" height="1" fill="#c0c0c0"/>
<rect x="1414" y="664" width="3" height="1" fill="#c0c0c0"/>
<rect x="1420" y="664" width="3" height="1" fill="#c0c0c0"/>
<rect x="1426" y="664" width="3" height="1" fill="#c0c0c0"/>
<rect x="1432" y="664" width="3" height="1" fill="#c0c0c0"/>
<rect x="1438" y="664" width="3" height="1" fill="#c0c0c0"/>
<rect x="1444" y="664" width="3" height="1" fill="#c0c0c0"/>
<rect x="1450" y="664" width="3" height="1" fill="#c0c0c0"/>
<rect x="1456" y="664" width="3" height="1" fill="#c0c0c0"/>
<rect x="1462" y="664" width="3" height="1" fill="#c0c0c0"/>
<rect x="1468" y="664" width="3" height="1" fill="#c0c0c0"/>
<rect x="1474" y="664" width="3" height="1" fill="#c0c0c0"/>
<rect x="1480" y="664" width="3" height="1" fill="#c0c0c0"/>
<rect x="1486" y="664" width="3" height="1" fill="#c0c0c0"/>
<rect x="1492" y="664" width="3" height="1" fill="#c0c0c0"/>
<rect x="1498" y="664" width="3" height="1" fill="#c0c0c0"/>
<rect x="1504" y="664" width="3" height="1" fill="#c0c0c0"/>
<rect x="1510" y="664" width="3" height="1" fill="#c0c0c0"/>
<rect x="1516" y="664" width="3" height="1" fill="#c0c0c0"/>
<rect x="1522" y="664" width="3" height="1" fill="#c0c0c0"/>
<rect x="1528" y="664" width="3" height="1" fill="#c0c0c0"/>
<rect x="1534" y="664" width="3" height="1" fill="#c0c0c0"/>
<rect x="1540" y="664" width="3" height="1" fill="#c0c0c0"/>
<rect x="1546" y="664" width="3" height="1" fill="#c0c0c0"/>
<rect x="1552" y="664" width="3" height="1" fill="#c0c0c0"/>
<rect x="1558" y="664" width="3" height="1" fill="#c0c0c0"/>
<rect x="1564" y="664" width="3" height="1" fill="#c0c0c0"/>
<rect x="1570" y="664" width="3" height="1" fill="#c0c0c0"/>
<rect x="1576" y="664" width="3" height="1" fill="#c0c0c0"/>
<rect x="1582" y="664" width="3" height="1" fill="#c0c0c0"/>
<rect x="1588" y="664" width="3" height="1" fill="#c0c0c0"/>
<rect x="1594" y="664" width="3" height="1" fill="#c0c0c0"/>
<rect x="1600" y="664" width="3" height="1" fill="#c0c0c0"/>
<rect x="1606" y="664" width="3" height="1" fill="#c0c0c0"/>
<rect x="1612" y="664" width="3" height="1" fill="#c0c0c0"/>
<rect x="1618" y="664" width="3" height="1" fill="#c0c0c0"/>
<rect x="1624" y="664" width="3" height="1" fill="#c0c0c0"/>
<rect x="1630" y="664" width="3" height="1" fill="#c0c0c0"/>
<rect x="1636" y="664" width="3" height="1" fill="#c0c0c0"/>
<rect x="1642" y="664" width="3" height="1" fill="#c0c0c0"/>
<rect x="1648" y="664" width="3" height="1" fill="#c0c0c0"/>
<rect x="1654" y="664" width="3" height="1" fill="#c0c0c0"/>
<rect x="1660" y="664" width="3" height="1" fill="#c0c0c0"/>
<rect x="1666" y="664" width="3" height="1" fill="#c0c0c0"/>
<rect x="1672" y="664" width="3" height="1" fill="#c0c0c0"/>
<rect x="1678" y="664" width="3" height="1" fill="#c0c0c0"/>
<polyline points="4.5,637.67 8.5,632.97 12.5,638.21 16.5,639.65 20.5,644.47 24.5,647.34 28.5,647.98 32.5,643.89 36.5,641.08 40.5,645.45 44.5,645.06 48.5,639.91 52.5,638.52 56.5,641.47 60.5,636.83 64.5,635.81 68.5,643.82 72.5,637.29 76.5,639.30 80.5,658.23 84.5,664.11 88.5,659.00 92.5,651.62 96.5,652.40 100.5,652.40 104.5,643.13 108.5,648.23 112.5,652.35 116.5,650.01 120.5,645.53 124.5,645.04 128.5,646.01 132.5,646.27 136.5,647.60 140.5,646.33 144.5,641.48 148.5,640.04 152.5,643.92 156.5,645.78 160.5,650.19 164.5,650.76 168.5,650.76 172.5,651.72 176.5,655.11 180.5,655.72 184.5,650.94 188.5,648.65 192.5,653.21 196.5,654.84 200.5,659.61 204.5,656.04 208.5,664.66 212.5,670.07 216.5,673.75 220.5,673.31 224.5,670.98 228.5,669.08 232.5,669.73 236.5,658.08 240.5,657.67 244.5,652.83 248.5,653.38 252.5,649.74 256.5,654.11 260.5,653.27 264.5,663.12 268.5,663.68 272.5,662.78 276.5,664.24 280.5,668.33 284.5,671.11 288.5,654.35 292.5,653.06 296.5,646.39 300.5,649.56 304.5,646.91 308.5,645.43 312.5,644.23 316.5,643.91 320.5,638.48 324.5,646.18 328.5,646.18 332.5,643.29 336.5,644.90 340.5,648.05 344.5,646.22 348.5,650.32 352.5,661.47 356.5,658.15 360.5,660.15 364.5,662.42 368.5,666.14 372.5,660.77 376.5,662.23 380.5,658.42 384.5,653.40 388.5,651.00 392.5,652.54 396.5,653.32 400.5,649.89 404.5,646.60 408.5,645.16 412.5,644.41 416.5,643.25 420.5,651.00 424.5,652.55 428.5,646.39 432.5,649.40 436.5,649.74 440.5,645.92 444.5,648.51 448.5,653.56 452.5,650.39 456.5,642.77 460.5,642.40 464.5,646.98 468.5,644.15 472.5,637.65 476.5,636.99 480.5,644.96 484.5,644.57 488.5,646.49 492.5,641.29 496.5,647.69 500.5,647.27 504.5,648.03 508.5,649.20 512.5,644.53 516.5,645.83 520.5,643.46 524.5,640.26 528.5,648.35 532.5,649.56 536.5,650.79 540.5,646.09 544.5,656.75 548.5,646.65 552.5,647.35 556.5,644.12 560.5,639.31 564.5,637.57 568.5,630.83 572.5,638.30 576.5,637.36 580.5,636.71 584.5,636.37 588.5,642.48 592.5,635.87 596.5,639.99 600.5,639.64 604.5,639.64 608.5,611.33 612.5,613.73 616.5,613.65 620.5,612.73 624.5,610.73 628.5,610.58 632.5,612.04 636.5,613.94 640.5,614.73 644.5,616.78 648.5,621.25 652.5,622.86 656.5,625.32 660.5,622.91 664.5,620.52 668.5,623.96 672.5,622.83 676.5,622.83 680.5,625.26 684.5,625.76 688.5,625.25 692.5,628.00 696.5,623.08 700.5,622.84 704.5,623.44 708.5,632.91 712.5,631.28 716.5,630.63 720.5,629.61 724.5,629.61 728.5,631.57 732.5,645.46 736.5,645.91 740.5,661.21 744.5,655.77 748.5,657.11 752.5,653.51 756.5,651.30 760.5,650.40 764.5,651.47 768.5,653.28 772.5,654.01 776.5,656.55 780.5,646.26 784.5,645.35 788.5,649.12 792.5,640.04 796.5,640.48 800.5,643.21 804.5,641.88 808.5,650.63 812.5,650.63 816.5,646.22 820.5,647.09 824.5,648.85 828.5,646.70 832.5,649.06 836.5,644.15 840.5,644.67 844.5,644.67 848.5,645.84 852.5,642.70 856.5,649.59 860.5,651.15 864.5,643.59 868.5,643.59 872.5,637.94 876.5,639.27 880.5,639.27 884.5,631.40 888.5,614.49 892.5,613.14 896.5,603.73 900.5,616.54 904.5,613.91 908.5,619.65 912.5,616.71 916.5,617.56 920.5,617.27 924.5,637.16 928.5,632.39 932.5,632.99 936.5,633.20 940.5,633.42 944.5,631.01 948.5,629.68 952.5,631.00 956.5,627.37 960.5,622.53 964.5,621.73 968.5,618.06 972.5,619.81 976.5,619.48 980.5,625.51 984.5,623.77 988.5,623.36 992.5,620.26 996.5,622.23 1000.5,632.57 1004.5,634.42 1008.5,640.84 1012.5,643.33 1016.5,640.11 1020.5,641.56 1024.5,641.56 1028.5,651.93 1032.5,657.28 1036.5,654.67 1040.5,649.48 1044.5,644.38 1048.5,645.62 1052.5,641.72 1056.5,644.38 1060.5,638.40 1064.5,638.21 1068.5,638.98 1072.5,635.04 1076.5,635.89 1080.5,634.60 1084.5,632.28 1088.5,633.28 1092.5,632.14 1096.5,632.14 1100.5,639.02 1104.5,644.06 1108.5,645.85 1112.5,639.09 1116.5,633.50 1120.5,637.38 1124.5,647.57 1128.5,652.08 1132.5,653.49 1136.5,654.72 1140.5,650.12 1144.5,646.41 1148.5,650.44 1152.5,650.90 1156.5,652.10 1160.5,652.60 1164.5,651.86 1168.5,654.29 1172.5,652.66 1176.5,655.71 1180.5,657.31 1184.5,652.48 1188.5,652.05 1192.5,654.56 1196.5,657.78 1200.5,659.70 1204.5,657.62 1208.5,661.26 1212.5,667.09 1216.5,667.68 1220.5,671.85 1224.5,663.07 1228.5,663.89 1232.5,654.43 1236.5,654.43 1240.5,648.56 1244.5,648.56 1248.5,655.48 1252.5,655.06 1256.5,646.20 1260.5,644.82 1264.5,642.72 1268.5,643.82 1272.5,639.23 1276.5,640.44 1280.5,644.75 1284.5,649.66 1288.5,649.23 1292.5,643.86 1296.5,645.03 1300.5,643.76 1304.5,639.30 1308.5,629.29 1312.5,639.97 1316.5,642.03 1320.5,645.67 1324.5,647.89 1328.5,643.31 1332.5,645.67 1336.5,644.57 1340.5,645.67" fill="none" stroke="#1e90ff" stroke-width="1"/>
<text x="8" y="604" font-size="10.3" fill="#000" stroke="#000" stroke-width="0.15" textLength="67.5" lengthAdjust="spacingAndGlyphs">RSI(14) 47.9754</text>
<rect x="1685" y="593" width="2" height="1" fill="#000"/>
<rect x="1685" y="623" width="2" height="1" fill="#000"/>
<rect x="1685" y="664" width="2" height="1" fill="#000"/>
<rect x="1685" y="694" width="2" height="1" fill="#000"/>
<text x="1688" y="602" font-size="10.3" fill="#000" stroke="#000" stroke-width="0.15" textLength="14.4" lengthAdjust="spacingAndGlyphs">100</text>
<text x="1688" y="627" font-size="10.3" fill="#000" stroke="#000" stroke-width="0.15" textLength="9.6" lengthAdjust="spacingAndGlyphs">70</text>
<text x="1688" y="668" font-size="10.3" fill="#000" stroke="#000" stroke-width="0.15" textLength="9.6" lengthAdjust="spacingAndGlyphs">30</text>
<text x="1688" y="692" font-size="10.3" fill="#000" stroke="#000" stroke-width="0.15" textLength="4.8" lengthAdjust="spacingAndGlyphs">0</text>
<rect x="3" y="697" width="1682" height="1" fill="#000"/>
<rect x="3" y="800" width="1682" height="1" fill="#000"/>
<rect x="3" y="697" width="1" height="104" fill="#000"/>
<rect x="1684" y="697" width="1" height="104" fill="#000"/>
<rect x="4" y="757" width="1" height="4" fill="#c0c0c0"/>
<rect x="8" y="755" width="1" height="6" fill="#c0c0c0"/>
<rect x="12" y="755" width="1" height="6" fill="#c0c0c0"/>
<rect x="16" y="755" width="1" height="6" fill="#c0c0c0"/>
<rect x="20" y="756" width="1" height="5" fill="#c0c0c0"/>
<rect x="24" y="757" width="1" height="4" fill="#c0c0c0"/>
<rect x="28" y="759" width="1" height="2" fill="#c0c0c0"/>
<rect x="32" y="759" width="1" height="2" fill="#c0c0c0"/>
<rect x="36" y="759" width="1" height="2" fill="#c0c0c0"/>
<rect x="40" y="760" width="1" height="1" fill="#c0c0c0"/>
<rect x="44" y="760" width="1" height="1" fill="#c0c0c0"/>
<rect x="48" y="759" width="1" height="2" fill="#c0c0c0"/>
<rect x="52" y="758" width="1" height="3" fill="#c0c0c0"/>
<rect x="56" y="758" width="1" height="3" fill="#c0c0c0"/>
<rect x="60" y="757" width="1" height="4" fill="#c0c0c0"/>
<rect x="64" y="756" width="1" height="5" fill="#c0c0c0"/>
<rect x="68" y="757" width="1" height="4" fill="#c0c0c0"/>
<rect x="72" y="756" width="1" height="5" fill="#c0c0c0"/>
<rect x="76" y="756" width="1" height="5" fill="#c0c0c0"/>
<rect x="80" y="761" width="1" height="1" fill="#c0c0c0"/>
<rect x="84" y="761" width="1" height="7" fill="#c0c0c0"/>
<rect x="88" y="761" width="1" height="11" fill="#c0c0c0"/>
<rect x="92" y="761" width="1" height="12" fill="#c0c0c0"/>
<rect x="96" y="761" width="1" height="13" fill="#c0c0c0"/>
<rect x="100" y="761" width="1" height="14" fill="#c0c0c0"/>
<rect x="104" y="761" width="1" height="11" fill="#c0c0c0"/>
<rect x="108" y="761" width="1" height="11" fill="#c0c0c0"/>
<rect x="112" y="761" width="1" height="12" fill="#c0c0c0"/>
<rect x="116" y="761" width="1" height="13" fill="#c0c0c0"/>
<rect x="120" y="761" width="1" height="11" fill="#c0c0c0"/>
<rect x="124" y="761" width="1" height="10" fill="#c0c0c0"/>
<rect x="128" y="761" width="1" height="9" fill="#c0c0c0"/>
<rect x="132" y="761" width="1" height="8" fill="#c0c0c0"/>
<rect x="136" y="761" width="1" height="8" fill="#c0c0c0"/>
<rect x="140" y="761" width="1" height="7" fill="#c0c0c0"/>
<rect x="144" y="761" width="1" height="5" fill="#c0c0c0"/>
<rect x="148" y="761" width="1" height="4" fill="#c0c0c0"/>
<rect x="152" y="761" width="1" height="3" fill="#c0c0c0"/>
<rect x="156" y="761" width="1" height="3" fill="#c0c0c0"/>
<rect x="160" y="761" width="1" height="4" fill="#c0c0c0"/>
<rect x="164" y="761" width="1" height="5" fill="#c0c0c0"/>
<rect x="168" y="761" width="1" height="6" fill="#c0c0c0"/>
<rect x="172" y="761" width="1" height="6" fill="#c0c0c0"/>
<rect x="176" y="761" width="1" height="8" fill="#c0c0c0"/>
<rect x="180" y="761" width="1" height="9" fill="#c0c0c0"/>
<rect x="184" y="761" width="1" height="9" fill="#c0c0c0"/>
<rect x="188" y="761" width="1" height="8" fill="#c0c0c0"/>
<rect x="192" y="761" width="1" height="9" fill="#c0c0c0"/>
<rect x="196" y="761" width="1" height="10" fill="#c0c0c0"/>
<rect x="200" y="761" width="1" height="11" fill="#c0c0c0"/>
<rect x="204" y="761" width="1" height="12" fill="#c0c0c0"/>
<rect x="208" y="761" width="1" height="15" fill="#c0c0c0"/>
<rect x="212" y="761" width="1" height="20" fill="#c0c0c0"/>
<rect x="216" y="761" width="1" height="25" fill="#c0c0c0"/>
<rect x="220" y="761" width="1" height="29" fill="#c0c0c0"/>
<rect x="224" y="761" width="1" height="32" fill="#c0c0c0"/>
<rect x="228" y="761" width="1" height="33" fill="#c0c0c0"/>
<rect x="232" y="761" width="1" height="34" fill="#c0c0c0"/>
<rect x="236" y="761" width="1" height="33" fill="#c0c0c0"/>
<rect x="240" y="761" width="1" height="31" fill="#c0c0c0"/>
<rect x="244" y="761" width="1" height="28" fill="#c0c0c0"/>
<rect x="248" y="761" width="1" height="26" fill="#c0c0c0"/>
<rect x="252" y="761" width="1" height="23" fill="#c0c0c0"/>
<rect x="256" y="761" width="1" height="22" fill="#c0c0c0"/>
<rect x="260" y="761" width="1" height="20" fill="#c0c0c0"/>
<rect x="264" y="761" width="1" height="22" fill="#c0c0c0"/>
<rect x="268" y="761" width="1" height="24" fill="#c0c0c0"/>
<rect x="272" y="761" width="1" height="24" fill="#c0c0c0"/>
<rect x="276" y="761" width="1" height="25" fill="#c0c0c0"/>
<rect x="280" y="761" width="1" height="27" fill="#c0c0c0"/>
<rect x="284" y="761" width="1" height="30" fill="#c0c0c0"/>
<rect x="288" y="761" width="1" height="29" fill="#c0c0c0"/>
<rect x="292" y="761" width="1" height="27" fill="#c0c0c0"/>
<rect x="296" y="761" width="1" height="23" fill="#c0c0c0"/>
<rect x="300" y="761" width="1" height="21" fill="#c0c0c0"/>
<rect x="304" y="761" width="1" height="19" fill="#c0c0c0"/>
<rect x="308" y="761" width="1" height="16" fill="#c0c0c0"/>
<rect x="312" y="761" width="1" height="14" fill="#c0c0c0"/>
<rect x="316" y="761" width="1" height="11" fill="#c0c0c0"/>
<rect x="320" y="761" width="1" height="8" fill="#c0c0c0"/>
<rect x="324" y="761" width="1" height="7" fill="#c0c0c0"/>
<rect x="328" y="761" width="1" height="7" fill="#c0c0c0"/>
<rect x="332" y="761" width="1" height="5" fill="#c0c0c0"/>
<rect x="336" y="761" width="1" height="5" fill="#c0c0c0"/>
<rect x="340" y="761" width="1" height="5" fill="#c0c0c0"/>
<rect x="344" y="761" width="1" height="5" fill="#c0c0c0"/>
<rect x="348" y="761" width="1" height="5" fill="#c0c0c0"/>
<rect x="352" y="761" width="1" height="10" fill="#c0c0c0"/>
<rect x="356" y="761" width="1" height="12" fill="#c0c0c0"/>
<rect x="360" y="761" width="1" height="15" fill="#c0c0c0"/>
<rect x="364" y="761" width="1" height="17" fill="#c0c0c0"/>
<rect x="368" y="761" width="1" height="21" fill="#c0c0c0"/>
<rect x="372" y="761" width="1" height="23" fill="#c0c0c0"/>
<rect x="376" y="761" width="1" height="24" fill="#c0c0c0"/>
<rect x="380" y="761" width="1" height="24" fill="#c0c0c0"/>
<rect x="384" y="761" width="1" height="23" fill="#c0c0c0"/>
<rect x="388" y="761" width="1" height="21" fill="#c0c0c0"/>
<rect x="392" y="761" width="1" height="20" fill="#c0c0c0"/>
<rect x="396" y="761" width="1" height="19" fill="#c0c0c0"/>
<rect x="400" y="761" width="1" height="18" fill="#c0c0c0"/>
<rect x="404" y="761" width="1" height="16" fill="#c0c0c0"/>
<rect x="408" y="761" width="1" height="13" fill="#c0c0c0"/>
<rect x="412" y="761" width="1" height="11" fill="#c0c0c0"/>
<rect x="416" y="761" width="1" height="9" fill="#c0c0c0"/>
<rect x="420" y="761" width="1" height="9" fill="#c0c0c0"/>
<rect x="424" y="761" width="1" height="10" fill="#c0c0c0"/>
<rect x="428" y="761" width="1" height="9" fill="#c0c0c0"/>
<rect x="432" y="761" width="1" height="8" fill="#c0c0c0"/>
<rect x="436" y="761" width="1" height="8" fill="#c0c0c0"/>
<rect x="440" y="761" width="1" height="7" fill="#c0c0c0"/>
<rect x="444" y="761" width="1" height="7" fill="#c0c0c0"/>
<rect x="448" y="761" width="1" height="8" fill="#c0c0c0"/>
<rect x="452" y="761" width="1" height="8" fill="#c0c0c0"/>
<rect x="456" y="761" width="1" height="6" fill="#c0c0c0"/>
<rect x="460" y="761" width="1" height="5" fill="#c0c0c0"/>
<rect x="464" y="761" width="1" height="5" fill="#c0c0c0"/>
<rect x="468" y="761" width="1" height="4" fill="#c0c0c0"/>
<rect x="472" y="761" width="1" height="2" fill="#c0c0c0"/>
<rect x="476" y="761" width="1" height="1" fill="#c0c0c0"/>
<rect x="480" y="761" width="1" height="1" fill="#c0c0c0"/>
<rect x="484" y="761" width="1" height="1" fill="#c0c0c0"/>
<rect x="488" y="761" width="1" height="1" fill="#c0c0c0"/>
<rect x="492" y="761" width="1" height="1" fill="#c0c0c0"/>
<rect x="496" y="761" width="1" height="1" fill="#c0c0c0"/>
<rect x="500" y="761" width="1" height="1" fill="#c0c0c0"/>
<rect x="504" y="761" width="1" height="2" fill="#c0c0c0"/>
<rect x="508" y="761" width="1" height="3" fill="#c0c0c0"/>
<rect x="512" y="761" width="1" height="2" fill="#c0c0c0"/>
<rect x="516" y="761" width="1" height="2" fill="#c0c0c0"/>
<rect x="520" y="761" width="1" height="2" fill="#c0c0c0"/>
<rect x="524" y="761" width="1" height="1" fill="#c0c0c0"/>
<rect x="528" y="761" width="1" height="1" fill="#c0c0c0"/>
<rect x="532" y="761" width="1" height="2" fill="#c0c0c0"/>
<rect x="536" y="761" width="1" height="3" fill="#c0c0c0"/>
<rect x="540" y="761" width="1" height="3" fill="#c0c0c0"/>
<rect x="544" y="761" width="1" height="5" fill="#c0c0c0"/>
<rect x="548" y="761" width="1" height="5" fill="#c0c0c0"/>
<rect x="552" y="761" width="1" height="5" fill="#c0c0c0"/>
<rect x="556" y="761" width="1" height="4" fill="#c0c0c0"/>
<rect x="560" y="761" width="1" height="2" fill="#c0c0c0"/>
<rect x="564" y="761" width="1" height="1" fill="#c0c0c0"/>
<rect x="568" y="759" width="1" height="2" fill="#c0c0c0"/>
<rect x="572" y="758" width="1" height="3" fill="#c0c0c0"/>
<rect x="576" y="757" width="1" height="4" fill="#c0c0c0"/>
<rect x="580" y="756" width="1" height="5" fill="#c0c0c0"/>
<rect x="584" y="755" width="1" height="6" fill="#c0c0c0"/>
<rect x="588" y="756" width="1" height="5" fill="#c0c0c0"/>
<rect x="592" y="755" width="1" height="6" fill="#c0c0c0"/>
<rect x="596" y="755" width="1" height="6" fill="#c0c0c0"/>
<rect x="600" y="755" width="1" height="6" fill="#c0c0c0"/>
<rect x="604" y="755" width="1" height="6" fill="#c0c0c0"/>
<rect x="608" y="742" width="1" height="19" fill="#c0c0c0"/>
<rect x="612" y="732" width="1" height="29" fill="#c0c0c0"/>
<rect x="616" y="725" width="1" height="36" fill="#c0c0c0"/>
<rect x="620" y="718" width="1" height="43" fill="#c0c0c0"/>
<rect x="624" y="712" width="1" height="49" fill="#c0c0c0"/>
<rect x="628" y="707" width="1" height="54" fill="#c0c0c0"/>
<rect x="632" y="705" width="1" height="56" fill="#c0c0c0"/>
<rect x="636" y="704" width="1" height="57" fill="#c0c0c0"/>
<rect x="640" y="704" width="1" height="57" fill="#c0c0c0"/>
<rect x="644" y="705" width="1" height="56" fill="#c0c0c0"/>
<rect x="648" y="707" width="1" height="54" fill="#c0c0c0"/>
<rect x="652" y="709" width="1" height="52" fill="#c0c0c0"/>
<rect x="656" y="713" width="1" height="48" fill="#c0c0c0"/>
<rect x="660" y="715" width="1" height="46" fill="#c0c0c0"/>
<rect x="664" y="716" width="1" height="45" fill="#c0c0c0"/>
<rect x="668" y="718" width="1" height="43" fill="#c0c0c0"/>
<rect x="672" y="719" width="1" height="42" fill="#c0c0c0"/>
<rect x="676" y="721" width="1" height="40" fill="#c0c0c0"/>
<rect x="680" y="723" width="1" height="38" fill="#c0c0c0"/>
<rect x="684" y="725" width="1" height="36" fill="#c0c0c0"/>
<rect x="688" y="727" width="1" height="34" fill="#c0c0c0"/>
<rect x="692" y="729" width="1" height="32" fill="#c0c0c0"/>
<rect x="696" y="730" width="1" height="31" fill="#c0c0c0"/>
<rect x="700" y="731" width="1" height="30" fill="#c0c0c0"/>
<rect x="704" y="732" width="1" height="29" fill="#c0c0c0"/>
<rect x="708" y="734" width="1" height="27" fill="#c0c0c0"/>
<rect x="712" y="736" width="1" height="25" fill="#c0c0c0"/>
<rect x="716" y="738" width="1" height="23" fill="#c0c0c0"/>
<rect x="720" y="739" width="1" height="22" fill="#c0c0c0"/>
<rect x="724" y="740" width="1" height="21" fill="#c0c0c0"/>
<rect x="728" y="742" width="1" height="19" fill="#c0c0c0"/>
<rect x="732" y="745" width="1" height="16" fill="#c0c0c0"/>
<rect x="736" y="748" width="1" height="13" fill="#c0c0c0"/>
<rect x="740" y="754" width="1" height="7" fill="#c0c0c0"/>
<rect x="744" y="758" width="1" height="3" fill="#c0c0c0"/>
<rect x="748" y="761" width="1" height="1" fill="#c0c0c0"/>
<rect x="752" y="761" width="1" height="3" fill="#c0c0c0"/>
<rect x="756" y="761" width="1" height="4" fill="#c0c0c0"/>
<rect x="760" y="761" width="1" height="4" fill="#c0c0c0"/>
<rect x="764" y="761" width="1" height="5" fill="#c0c0c0"/>
<rect x="768" y="761" width="1" height="6" fill="#c0c0c0"/>
<rect x="772" y="761" width="1" height="7" fill="#c0c0c0"/>
<rect x="776" y="761" width="1" height="8" fill="#c0c0c0"/>
<rect x="780" y="761" width="1" height="7" fill="#c0c0c0"/>
<rect x="784" y="761" width="1" height="6" fill="#c0c0c0"/>
<rect x="788" y="761" width="1" height="6" fill="#c0c0c0"/>
<rect x="792" y="761" width="1" height="5" fill="#c0c0c0"/>
<rect x="796" y="761" width="1" height="3" fill="#c0c0c0"/>
<rect x="800" y="761" width="1" height="3" fill="#c0c0c0"/>
<rect x="804" y="761" width="1" height="2" fill="#c0c0c0"/>
<rect x="808" y="761" width="1" height="3" fill="#c0c0c0"/>
<rect x="812" y="761" width="1" height="4" fill="#c0c0c0"/>
<rect x="816" y="761" width="1" height="3" fill="#c0c0c0"/>
<rect x="820" y="761" width="1" height="3" fill="#c0c0c0"/>
<rect x="824" y="761" width="1" height="4" fill="#c0c0c0"/>
<rect x="828" y="761" width="1" height="4" fill="#c0c0c0"/>
<rect x="832" y="761" width="1" height="4" fill="#c0c0c0"/>
<rect x="836" y="761" width="1" height="3" fill="#c0c0c0"/>
<rect x="840" y="761" width="1" height="3" fill="#c0c0c0"/>
<rect x="844" y="761" width="1" height="2" fill="#c0c0c0"/>
<rect x="848" y="761" width="1" height="2" fill="#c0c0c0"/>
<rect x="852" y="761" width="1" height="2" fill="#c0c0c0"/>
<rect x="856" y="761" width="1" height="2" fill="#c0c0c0"/>
<rect x="860" y="761" width="1" height="3" fill="#c0c0c0"/>
<rect x="864" y="761" width="1" height="2" fill="#c0c0c0"/>
<rect x="868" y="761" width="1" height="2" fill="#c0c0c0"/>
<rect x="872" y="761" width="1" height="1" fill="#c0c0c0"/>
<rect x="876" y="761" width="1" height="1" fill="#c0c0c0"/>
<rect x="880" y="760" width="1" height="1" fill="#c0c0c0"/>
<rect x="884" y="759" width="1" height="2" fill="#c0c0c0"/>
<rect x="888" y="752" width="1" height="9" fill="#c0c0c0"/>
<rect x="892" y="747" width="1" height="14" fill="#c0c0c0"/>
<rect x="896" y="734" width="1" height="27" fill="#c0c0c0"/>
<rect x="900" y="727" width="1" height="34" fill="#c0c0c0"/>
<rect x="904" y="719" width="1" height="42" fill="#c0c0c0"/>
<rect x="908" y="716" width="1" height="45" fill="#c0c0c0"/>
<rect x="912" y="711" width="1" height="50" fill="#c0c0c0"/>
<rect x="916" y="707" width="1" height="54" fill="#c0c0c0"/>
<rect x="920" y="705" width="1" height="56" fill="#c0c0c0"/>
<rect x="924" y="711" width="1" height="50" fill="#c0c0c0"/>
<rect x="928" y="713" width="1" height="48" fill="#c0c0c0"/>
<rect x="932" y="715" width="1" height="46" fill="#c0c0c0"/>
<rect x="936" y="718" width="1" height="43" fill="#c0c0c0"/>
<rect x="940" y="720" width="1" height="41" fill="#c0c0c0"/>
<rect x="944" y="721" width="1" height="40" fill="#c0c0c0"/>
<rect x="948" y="722" width="1" height="39" fill="#c0c0c0"/>
<rect x="952" y="723" width="1" height="38" fill="#c0c0c0"/>
<rect x="956" y="723" width="1" height="38" fill="#c0c0c0"/>
<rect x="960" y="720" width="1" height="41" fill="#c0c0c0"/>
<rect x="964" y="718" width="1" height="43" fill="#c0c0c0"/>
<rect x="968" y="714" width="1" height="47" fill="#c0c0c0"/>
<rect x="972" y="712" width="1" height="49" fill="#c0c0c0"/>
<rect x="976" y="710" width="1" height="51" fill="#c0c0c0"/>
<rect x="980" y="711" width="1" height="50" fill="#c0c0c0"/>
<rect x="984" y="712" width="1" height="49" fill="#c0c0c0"/>
<rect x="988" y="712" width="1" height="49" fill="#c0c0c0"/>
<rect x="992" y="712" width="1" height="49" fill="#c0c0c0"/>
<rect x="996" y="712" width="1" height="49" fill="#c0c0c0"/>
<rect x="1000" y="715" width="1" height="46" fill="#c0c0c0"/>
<rect x="1004" y="719" width="1" height="42" fill="#c0c0c0"/>
<rect x="1008" y="725" width="1" height="36" fill="#c0c0c0"/>
<rect x="1012" y="730" width="1" height="31" fill="#c0c0c0"/>
<rect x="1016" y="734" width="1" height="27" fill="#c0c0c0"/>
<rect x="1020" y="738" width="1" height="23" fill="#c0c0c0"/>
<rect x="1024" y="741" width="1" height="20" fill="#c0c0c0"/>
<rect x="1028" y="747" width="1" height="14" fill="#c0c0c0"/>
<rect x="1032" y="754" width="1" height="7" fill="#c0c0c0"/>
<rect x="1036" y="760" width="1" height="1" fill="#c0c0c0"/>
<rect x="1040" y="761" width="1" height="1" fill="#c0c0c0"/>
<rect x="1044" y="761" width="1" height="1" fill="#c0c0c0"/>
<rect x="1048" y="761" width="1" height="2" fill="#c0c0c0"/>
<rect x="1052" y="761" width="1" height="1" fill="#c0c0c0"/>
<rect x="1056" y="761" width="1" height="1" fill="#c0c0c0"/>
<rect x="1060" y="760" width="1" height="1" fill="#c0c0c0"/>
<rect x="1064" y="758" width="1" height="3" fill="#c0c0c0"/>
<rect x="1068" y="757" width="1" height="4" fill="#c0c0c0"/>
<rect x="1072" y="755" width="1" height="6" fill="#c0c0c0"/>
<rect x="1076" y="753" width="1" height="8" fill="#c0c0c0"/>
<rect x="1080" y="751" width="1" height="10" fill="#c0c0c0"/>
<rect x="1084" y="750" width="1" height="11" fill="#c0c0c0"/>
<rect x="1088" y="748" width="1" height="13" fill="#c0c0c0"/>
<rect x="1092" y="747" width="1" height="14" fill="#c0c0c0"/>
<rect x="1096" y="746" width="1" height="15" fill="#c0c0c0"/>
<rect x="1100" y="747" width="1" height="14" fill="#c0c0c0"/>
<rect x="1104" y="750" width="1" height="11" fill="#c0c0c0"/>
<rect x="1108" y="752" width="1" height="9" fill="#c0c0c0"/>
<rect x="1112" y="752" width="1" height="9" fill="#c0c0c0"/>
<rect x="1116" y="750" width="1" height="11" fill="#c0c0c0"/>
<rect x="1120" y="750" width="1" height="11" fill="#c0c0c0"/>
<rect x="1124" y="753" width="1" height="8" fill="#c0c0c0"/>
<rect x="1128" y="757" width="1" height="4" fill="#c0c0c0"/>
<rect x="1132" y="761" width="1" height="1" fill="#c0c0c0"/>
<rect x="1136" y="761" width="1" height="3" fill="#c0c0c0"/>
<rect x="1140" y="761" width="1" height="5" fill="#c0c0c0"/>
<rect x="1144" y="761" width="1" height="5" fill="#c0c0c0"/>
<rect x="1148" y="761" width="1" height="6" fill="#c0c0c0"/>
<rect x="1152" y="761" width="1" height="7" fill="#c0c0c0"/>
<rect x="1156" y="761" width="1" height="8" fill="#c0c0c0"/>
<rect x="1160" y="761" width="1" height="9" fill="#c0c0c0"/>
<rect x="1164" y="761" width="1" height="10" fill="#c0c0c0"/>
<rect x="1168" y="761" width="1" height="11" fill="#c0c0c0"/>
<rect x="1172" y="761" width="1" height="11" fill="#c0c0c0"/>
<rect x="1176" y="761" width="1" height="12" fill="#c0c0c0"/>
<rect x="1180" y="761" width="1" height="13" fill="#c0c0c0"/>
<rect x="1184" y="761" width="1" height="13" fill="#c0c0c0"/>
<rect x="1188" y="761" width="1" height="13" fill="#c0c0c0"/>
<rect x="1192" y="761" width="1" height="13" fill="#c0c0c0"/>
<rect x="1196" y="761" width="1" height="14" fill="#c0c0c0"/>
<rect x="1200" y="761" width="1" height="15" fill="#c0c0c0"/>
<rect x="1204" y="761" width="1" height="15" fill="#c0c0c0"/>
<rect x="1208" y="761" width="1" height="16" fill="#c0c0c0"/>
<rect x="1212" y="761" width="1" height="19" fill="#c0c0c0"/>
<rect x="1216" y="761" width="1" height="21" fill="#c0c0c0"/>
<rect x="1220" y="761" width="1" height="24" fill="#c0c0c0"/>
<rect x="1224" y="761" width="1" height="25" fill="#c0c0c0"/>
<rect x="1228" y="761" width="1" height="26" fill="#c0c0c0"/>
<rect x="1232" y="761" width="1" height="24" fill="#c0c0c0"/>
<rect x="1236" y="761" width="1" height="23" fill="#c0c0c0"/>
<rect x="1240" y="761" width="1" height="21" fill="#c0c0c0"/>
<rect x="1244" y="761" width="1" height="18" fill="#c0c0c0"/>
<rect x="1248" y="761" width="1" height="18" fill="#c0c0c0"/>
<rect x="1252" y="761" width="1" height="18" fill="#c0c0c0"/>
<rect x="1256" y="761" width="1" height="16" fill="#c0c0c0"/>
<rect x="1260" y="761" width="1" height="13" fill="#c0c0c0"/>
<rect x="1264" y="761" width="1" height="11" fill="#c0c0c0"/>
<rect x="1268" y="761" width="1" height="9" fill="#c0c0c0"/>
<rect x="1272" y="761" width="1" height="7" fill="#c0c0c0"/>
<rect x="1276" y="761" width="1" height="5" fill="#c0c0c0"/>
<rect x="1280" y="761" width="1" height="4" fill="#c0c0c0"/>
<rect x="1284" y="761" width="1" height="5" fill="#c0c0c0"/>
<rect x="1288" y="761" width="1" height="5" fill="#c0c0c0"/>
<rect x="1292" y="761" width="1" height="4" fill="#c0c0c0"/>
<rect x="1296" y="761" width="1" height="4" fill="#c0c0c0"/>
<rect x="1300" y="761" width="1" height="3" fill="#c0c0c0"/>
<rect x="1304" y="761" width="1" height="2" fill="#c0c0c0"/>
<rect x="1308" y="759" width="1" height="2" fill="#c0c0c0"/>
<rect x="1312" y="758" width="1" height="3" fill="#c0c0c0"/>
<rect x="1316" y="758" width="1" height="3" fill="#c0c0c0"/>
<rect x="1320" y="759" width="1" height="2" fill="#c0c0c0"/>
<rect x="1324" y="760" width="1" height="1" fill="#c0c0c0"/>
<rect x="1328" y="760" width="1" height="1" fill="#c0c0c0"/>
<rect x="1332" y="761" width="1" height="1" fill="#c0c0c0"/>
<rect x="1336" y="761" width="1" height="1" fill="#c0c0c0"/>
<rect x="1340" y="761" width="1" height="1" fill="#c0c0c0"/>
<polyline points="4.5,756.12 8.5,756.81 12.5,757.16 16.5,757.10 20.5,756.96 24.5,756.78 28.5,756.77 32.5,756.75 36.5,756.82 40.5,757.08 44.5,757.63 48.5,758.16 52.5,758.59 56.5,758.88 60.5,758.87 64.5,758.58 68.5,758.33 72.5,758.02 76.5,757.61 80.5,757.73 84.5,758.69 88.5,760.20 92.5,761.84 96.5,763.71 100.5,765.75 104.5,767.45 108.5,769.23 112.5,771.18 116.5,772.56 120.5,773.03 124.5,772.89 128.5,772.54 132.5,772.00 136.5,771.36 140.5,770.91 144.5,770.29 148.5,769.32 152.5,768.26 156.5,767.34 160.5,766.71 164.5,766.28 168.5,766.01 172.5,765.85 176.5,765.90 180.5,766.28 184.5,766.87 188.5,767.46 192.5,768.12 196.5,768.73 200.5,769.42 204.5,770.10 208.5,771.04 212.5,772.36 216.5,774.19 220.5,776.49 224.5,779.11 228.5,781.82 232.5,784.56 236.5,786.92 240.5,789.02 244.5,790.47 248.5,791.15 252.5,790.89 256.5,790.02 260.5,788.73 264.5,787.50 268.5,786.34 272.5,785.45 276.5,784.84 280.5,784.77 284.5,785.25 288.5,785.86 292.5,786.41 296.5,786.72 300.5,786.60 304.5,786.04 308.5,785.11 312.5,783.81 316.5,782.03 320.5,779.59 324.5,777.25 328.5,775.04 332.5,773.08 336.5,771.26 340.5,769.74 344.5,768.47 348.5,767.56 352.5,767.36 356.5,767.80 360.5,768.61 364.5,769.80 368.5,771.54 372.5,773.54 376.5,775.69 380.5,777.89 384.5,779.87 388.5,781.19 392.5,782.10 396.5,782.62 400.5,782.65 404.5,782.02 408.5,780.98 412.5,779.53 416.5,777.84 420.5,776.30 424.5,774.98 428.5,773.69 432.5,772.47 436.5,771.42 440.5,770.51 444.5,769.81 448.5,769.43 452.5,769.28 456.5,768.94 460.5,768.43 464.5,768.00 468.5,767.51 472.5,766.82 476.5,766.03 480.5,765.29 484.5,764.46 488.5,763.67 492.5,762.97 496.5,762.51 500.5,762.13 504.5,761.89 508.5,761.94 512.5,762.16 516.5,762.36 520.5,762.50 524.5,762.50 528.5,762.65 532.5,762.79 536.5,762.96 540.5,763.07 544.5,763.33 548.5,763.61 552.5,763.90 556.5,764.15 560.5,764.32 564.5,764.23 568.5,763.73 572.5,763.03 576.5,762.23 580.5,761.11 584.5,759.93 588.5,758.82 592.5,757.69 596.5,756.75 600.5,756.01 604.5,755.61 608.5,753.83 612.5,751.08 616.5,747.61 620.5,743.53 624.5,738.66 628.5,733.39 632.5,727.81 636.5,722.10 640.5,716.37 644.5,712.25 648.5,709.46 652.5,707.79 656.5,707.16 660.5,707.46 664.5,708.39 668.5,709.84 672.5,711.57 676.5,713.50 680.5,715.56 684.5,717.60 688.5,719.57 692.5,721.44 696.5,723.16 700.5,724.85 704.5,726.45 708.5,728.15 712.5,729.87 716.5,731.53 720.5,733.08 724.5,734.54 728.5,735.91 732.5,737.58 736.5,739.47 740.5,741.92 744.5,744.53 748.5,747.32 752.5,750.17 756.5,753.01 760.5,755.79 764.5,758.51 768.5,760.95 772.5,763.16 776.5,764.83 780.5,765.97 784.5,766.63 788.5,767.05 792.5,767.14 796.5,767.00 800.5,766.71 804.5,766.23 808.5,765.77 812.5,765.27 816.5,764.85 820.5,764.52 824.5,764.22 828.5,764.11 832.5,764.17 836.5,764.23 840.5,764.34 844.5,764.29 848.5,764.14 852.5,763.95 856.5,763.82 860.5,763.72 864.5,763.58 868.5,763.37 872.5,763.09 876.5,762.78 880.5,762.44 884.5,761.93 888.5,760.80 892.5,759.00 896.5,755.68 900.5,751.65 904.5,746.82 908.5,741.70 912.5,736.10 916.5,730.22 920.5,724.30 924.5,719.67 928.5,715.88 932.5,713.81 936.5,712.79 940.5,712.89 944.5,713.54 948.5,714.81 952.5,716.59 956.5,718.55 960.5,719.59 964.5,720.14 968.5,719.99 972.5,719.32 976.5,718.22 980.5,717.10 984.5,715.96 988.5,714.73 992.5,713.45 996.5,712.53 1000.5,712.26 1004.5,712.87 1008.5,714.33 1012.5,716.57 1016.5,719.08 1020.5,721.94 1024.5,725.07 1028.5,729.00 1032.5,733.72 1036.5,738.62 1040.5,743.37 1044.5,747.52 1048.5,751.11 1052.5,754.19 1056.5,756.90 1060.5,759.03 1064.5,760.26 1068.5,760.54 1072.5,759.97 1076.5,758.97 1080.5,757.78 1084.5,756.31 1088.5,754.81 1092.5,753.17 1096.5,751.69 1100.5,750.52 1104.5,749.71 1108.5,749.42 1112.5,749.31 1116.5,749.20 1120.5,749.28 1124.5,749.83 1128.5,750.94 1132.5,752.56 1136.5,754.43 1140.5,756.22 1144.5,757.76 1148.5,759.43 1152.5,761.40 1156.5,763.53 1160.5,765.43 1164.5,766.95 1168.5,768.16 1172.5,769.03 1176.5,769.85 1180.5,770.78 1184.5,771.55 1188.5,772.16 1192.5,772.66 1196.5,773.15 1200.5,773.70 1204.5,774.18 1208.5,774.75 1212.5,775.51 1216.5,776.38 1220.5,777.64 1224.5,779.03 1228.5,780.48 1232.5,781.68 1236.5,782.60 1240.5,783.20 1244.5,783.43 1248.5,783.35 1252.5,783.00 1256.5,782.02 1260.5,780.70 1264.5,779.02 1268.5,777.31 1272.5,775.47 1276.5,773.72 1280.5,772.15 1284.5,770.64 1288.5,769.21 1292.5,767.94 1296.5,766.87 1300.5,765.99 1304.5,765.16 1308.5,764.20 1312.5,763.37 1316.5,762.60 1320.5,761.86 1324.5,761.22 1328.5,760.67 1332.5,760.23 1336.5,759.89 1340.5,759.73" fill="none" stroke="#ff0000" stroke-width="1" stroke-dasharray="3,3"/>
<text x="8" y="710" font-size="10.3" fill="#000" stroke="#000" stroke-width="0.15" textLength="150" lengthAdjust="spacingAndGlyphs">MACD(12,26,9) -0.000818 0.000838</text>
<rect x="1685" y="699" width="2" height="1" fill="#000"/>
<rect x="1685" y="760" width="2" height="1" fill="#000"/>
<rect x="1685" y="799" width="2" height="1" fill="#000"/>
<text x="1688" y="708" font-size="10.3" fill="#000" stroke="#000" stroke-width="0.15" textLength="37.5" lengthAdjust="spacingAndGlyphs">0.063184</text>
<text x="1688" y="764" font-size="10.3" fill="#000" stroke="#000" stroke-width="0.15" textLength="17" lengthAdjust="spacingAndGlyphs">0.00</text>
<text x="1688" y="798" font-size="10.3" fill="#000" stroke="#000" stroke-width="0.15" textLength="41" lengthAdjust="spacingAndGlyphs">-0.040355</text>
<rect x="4" y="801" width="1" height="3" fill="#000"/>
<text transform="translate(3.5 813) scale(0.907 1)" font-size="10.3" fill="#000" stroke="#000" stroke-width="0.15">10 Nov 2018</text>
<rect x="68" y="801" width="1" height="3" fill="#000"/>
<text transform="translate(67.5 813) scale(0.907 1)" font-size="10.3" fill="#000" stroke="#000" stroke-width="0.15">29 Nov 2018</text>
<rect x="132" y="801" width="1" height="3" fill="#000"/>
<text transform="translate(131.5 813) scale(0.907 1)" font-size="10.3" fill="#000" stroke="#000" stroke-width="0.15">18 Dec 2018</text>
<rect x="196" y="801" width="1" height="3" fill="#000"/>
<text transform="translate(195.5 813) scale(0.907 1)" font-size="10.3" fill="#000" stroke="#000" stroke-width="0.15">5 Jan 2019</text>
<rect x="260" y="801" width="1" height="3" fill="#000"/>
<text transform="translate(259.5 813) scale(0.907 1)" font-size="10.3" fill="#000" stroke="#000" stroke-width="0.15">24 Jan 2019</text>
<rect x="324" y="801" width="1" height="3" fill="#000"/>
<text transform="translate(323.5 813) scale(0.907 1)" font-size="10.3" fill="#000" stroke="#000" stroke-width="0.15">12 Feb 2019</text>
<rect x="388" y="801" width="1" height="3" fill="#000"/>
<text transform="translate(387.5 813) scale(0.907 1)" font-size="10.3" fill="#000" stroke="#000" stroke-width="0.15">2 Mar 2019</text>
<rect x="452" y="801" width="1" height="3" fill="#000"/>
<text transform="translate(451.5 813) scale(0.907 1)" font-size="10.3" fill="#000" stroke="#000" stroke-width="0.15">21 Mar 2019</text>
<rect x="516" y="801" width="1" height="3" fill="#000"/>
<text transform="translate(515.5 813) scale(0.907 1)" font-size="10.3" fill="#000" stroke="#000" stroke-width="0.15">9 Apr 2019</text>
<rect x="580" y="801" width="1" height="3" fill="#000"/>
<text transform="translate(579.5 813) scale(0.907 1)" font-size="10.3" fill="#000" stroke="#000" stroke-width="0.15">29 Apr 2019</text>
<rect x="644" y="801" width="1" height="3" fill="#000"/>
<text transform="translate(643.5 813) scale(0.907 1)" font-size="10.3" fill="#000" stroke="#000" stroke-width="0.15">23 May 2019</text>
<rect x="708" y="801" width="1" height="3" fill="#000"/>
<text transform="translate(707.5 813) scale(0.907 1)" font-size="10.3" fill="#000" stroke="#000" stroke-width="0.15">11 Jun 2019</text>
<rect x="772" y="801" width="1" height="3" fill="#000"/>
<text transform="translate(771.5 813) scale(0.907 1)" font-size="10.3" fill="#000" stroke="#000" stroke-width="0.15">29 Jun 2019</text>
<rect x="836" y="801" width="1" height="3" fill="#000"/>
<text transform="translate(835.5 813) scale(0.907 1)" font-size="10.3" fill="#000" stroke="#000" stroke-width="0.15">18 Jul 2019</text>
<rect x="900" y="801" width="1" height="3" fill="#000"/>
<text transform="translate(899.5 813) scale(0.907 1)" font-size="10.3" fill="#000" stroke="#000" stroke-width="0.15">6 Aug 2019</text>
<rect x="964" y="801" width="1" height="3" fill="#000"/>
<text transform="translate(963.5 813) scale(0.907 1)" font-size="10.3" fill="#000" stroke="#000" stroke-width="0.15">24 Aug 2019</text>
<rect x="1028" y="801" width="1" height="3" fill="#000"/>
<text transform="translate(1027.5 813) scale(0.907 1)" font-size="10.3" fill="#000" stroke="#000" stroke-width="0.15">12 Sep 2019</text>
<rect x="1092" y="801" width="1" height="3" fill="#000"/>
<text transform="translate(1091.5 813) scale(0.907 1)" font-size="10.3" fill="#000" stroke="#000" stroke-width="0.15">1 Oct 2019</text>
<rect x="1156" y="801" width="1" height="3" fill="#000"/>
<text transform="translate(1155.5 813) scale(0.907 1)" font-size="10.3" fill="#000" stroke="#000" stroke-width="0.15">19 Oct 2019</text>
<rect x="1220" y="801" width="1" height="3" fill="#000"/>
<text transform="translate(1219.5 813) scale(0.907 1)" font-size="10.3" fill="#000" stroke="#000" stroke-width="0.15">7 Nov 2019</text>
<rect x="1284" y="801" width="1" height="3" fill="#000"/>
<text transform="translate(1283.5 813) scale(0.907 1)" font-size="10.3" fill="#000" stroke="#000" stroke-width="0.15">26 Nov 2019</text>
<text x="131.3" y="10" font-size="10.2" fill="#303030" stroke="#303030" stroke-width="0.1" textLength="12.8" lengthAdjust="spacingAndGlyphs">M1</text>
<text x="159" y="10" font-size="10.2" fill="#303030" stroke="#303030" stroke-width="0.1" textLength="13.4" lengthAdjust="spacingAndGlyphs">M5</text>
<text x="185.4" y="10" font-size="10.2" fill="#303030" stroke="#303030" stroke-width="0.1" textLength="18" lengthAdjust="spacingAndGlyphs">M15</text>
<text x="213.5" y="10" font-size="10.2" fill="#303030" stroke="#303030" stroke-width="0.1" textLength="17.9" lengthAdjust="spacingAndGlyphs">M30</text>
<text x="244.2" y="10" font-size="10.2" fill="#303030" stroke="#303030" stroke-width="0.1" textLength="12" lengthAdjust="spacingAndGlyphs">H1</text>
<text x="271.2" y="10" font-size="10.2" fill="#303030" stroke="#303030" stroke-width="0.1" textLength="12.8" lengthAdjust="spacingAndGlyphs">H4</text>
<text x="327.9" y="10" font-size="10.2" fill="#303030" stroke="#303030" stroke-width="0.1" textLength="14.4" lengthAdjust="spacingAndGlyphs">W1</text>
<text x="354.4" y="10" font-size="10.2" fill="#303030" stroke="#303030" stroke-width="0.1" textLength="15.1" lengthAdjust="spacingAndGlyphs">MN</text>
<rect x="116" y="0" width="1" height="18" fill="#a0a0a0"/>
<rect x="117" y="0" width="1" height="18" fill="#ffffff"/>
<rect x="120" y="0" width="3" height="1" fill="#a0a0a0"/>
<rect x="120" y="2" width="3" height="1" fill="#a0a0a0"/>
<rect x="120" y="4" width="3" height="1" fill="#a0a0a0"/>
<rect x="120" y="6" width="3" height="1" fill="#a0a0a0"/>
<rect x="120" y="8" width="3" height="1" fill="#a0a0a0"/>
<rect x="120" y="10" width="3" height="1" fill="#a0a0a0"/>
<rect x="120" y="12" width="3" height="1" fill="#a0a0a0"/>
<rect x="120" y="14" width="3" height="1" fill="#a0a0a0"/>
<rect x="377" y="0" width="1" height="18" fill="#a0a0a0"/>
<rect x="378" y="0" width="1" height="18" fill="#ffffff"/>
<rect x="294" y="0" width="1" height="18" fill="#a0a0a0"/>
<rect x="295" y="0" width="26" height="18" fill="#f4f4f4"/>
<text x="300.2" y="10" font-size="10.2" fill="#303030" stroke="#303030" stroke-width="0.1" textLength="12.1" lengthAdjust="spacingAndGlyphs">D1</text>
<rect x="0" y="2" width="1" height="1" fill="#404040"/>
<rect x="2" y="2" width="1" height="1" fill="#404040"/>
<rect x="4" y="2" width="1" height="1" fill="#404040"/>
<rect x="6" y="2" width="1" height="1" fill="#404040"/>
<rect x="8" y="2" width="1" height="1" fill="#404040"/>
<rect x="10" y="2" width="1" height="1" fill="#404040"/>
<rect x="12" y="2" width="1" height="1" fill="#404040"/>
<rect x="0" y="6" width="1" height="1" fill="#404040"/>
<rect x="2" y="6" width="1" height="1" fill="#404040"/>
<rect x="4" y="6" width="1" height="1" fill="#404040"/>
<rect x="6" y="6" width="1" height="1" fill="#404040"/>
<rect x="8" y="6" width="1" height="1" fill="#404040"/>
<rect x="10" y="6" width="1" height="1" fill="#404040"/>
<rect x="12" y="6" width="1" height="1" fill="#404040"/>
<rect x="0" y="10" width="1" height="1" fill="#404040"/>
<rect x="2" y="10" width="1" height="1" fill="#404040"/>
<rect x="4" y="10" width="1" height="1" fill="#404040"/>
<rect x="6" y="10" width="1" height="1" fill="#404040"/>
<rect x="8" y="10" width="1" height="1" fill="#404040"/>
<text x="10" y="15" font-size="7" fill="#404040" stroke="#404040" stroke-width="0.15" font-weight="bold">F</text>
<text x="31" y="11" font-size="11.5" fill="#404040" stroke="#404040" stroke-width="0.15">A</text>
<rect x="57" y="0" width="1" height="1" fill="#404040"/>
<rect x="57" y="12" width="1" height="1" fill="#404040"/>
<rect x="59" y="0" width="1" height="1" fill="#404040"/>
<rect x="59" y="12" width="1" height="1" fill="#404040"/>
<rect x="61" y="0" width="1" height="1" fill="#404040"/>
<rect x="61" y="12" width="1" height="1" fill="#404040"/>
<rect x="63" y="0" width="1" height="1" fill="#404040"/>
<rect x="63" y="12" width="1" height="1" fill="#404040"/>
<rect x="65" y="0" width="1" height="1" fill="#404040"/>
<rect x="65" y="12" width="1" height="1" fill="#404040"/>
<rect x="67" y="0" width="1" height="1" fill="#404040"/>
<rect x="67" y="12" width="1" height="1" fill="#404040"/>
<rect x="69" y="0" width="1" height="1" fill="#404040"/>
<rect x="69" y="12" width="1" height="1" fill="#404040"/>
<rect x="57" y="2" width="1" height="1" fill="#404040"/>
<rect x="68" y="2" width="1" height="1" fill="#404040"/>
<rect x="57" y="4" width="1" height="1" fill="#404040"/>
<rect x="68" y="4" width="1" height="1" fill="#404040"/>
<rect x="57" y="6" width="1" height="1" fill="#404040"/>
<rect x="68" y="6" width="1" height="1" fill="#404040"/>
<rect x="57" y="8" width="1" height="1" fill="#404040"/>
<rect x="68" y="8" width="1" height="1" fill="#404040"/>
<rect x="57" y="10" width="1" height="1" fill="#404040"/>
<rect x="68" y="10" width="1" height="1" fill="#404040"/>
<rect x="59" y="3" width="8" height="1" fill="#404040"/>
<rect x="62" y="3" width="2" height="8" fill="#404040"/>
<polygon points="84,3.5 87.5,0 91,3.5 89,4 86,4" fill="#505050" shape-rendering="auto"/>
<polyline points="86.2,7 88.6,9.4 92.8,4.6" fill="none" stroke="#404040" stroke-width="1.6" shape-rendering="auto"/>
<polygon points="91.2,9 93.5,8 96,8 98.2,9 94.7,13.2" fill="#505050" shape-rendering="auto"/>
<polygon points="105,5 110,5 107.5,8" fill="#000"/>
<rect x="417" y="823" width="104" height="19" fill="#ffffff"/>
<rect x="417" y="823" width="1" height="19" fill="#000"/>
<rect x="520" y="823" width="1" height="19" fill="#000"/>
<rect x="417" y="841" width="104" height="1" fill="#000"/>
<rect x="0" y="824" width="1" height="18" fill="#7a7a7a"/>
<rect x="109" y="827" width="1" height="13" fill="#6a6a6a"/>
<rect x="209" y="827" width="1" height="13" fill="#6a6a6a"/>
<rect x="313" y="827" width="1" height="13" fill="#6a6a6a"/>
<text x="17.5" y="838" font-size="12.8" fill="#6d6d6d" textLength="79.5" lengthAdjust="spacingAndGlyphs">EURUSD,Daily</text>
<text x="119.5" y="838" font-size="12.8" fill="#6d6d6d" textLength="80" lengthAdjust="spacingAndGlyphs">USDCHF,Daily</text>
<text x="219.7" y="838" font-size="12.8" fill="#6d6d6d" textLength="82" lengthAdjust="spacingAndGlyphs">AUDUSD,Daily</text>
<text x="324.2" y="838" font-size="12.8" fill="#6d6d6d" textLength="81.2" lengthAdjust="spacingAndGlyphs">USDCAD,Daily</text>
<text x="427" y="838" font-size="12.8" fill="#000" textLength="83" lengthAdjust="spacingAndGlyphs">USDCNH,Daily</text>
<polygon points="1699.5,832 1703.3,828.3 1703.3,835.7" fill="#8c8c8c" shape-rendering="auto"/>
<polygon points="1718.7,828.3 1722.5,832 1718.7,835.7" fill="#8c8c8c" shape-rendering="auto"/>
</svg>
</body></html>
